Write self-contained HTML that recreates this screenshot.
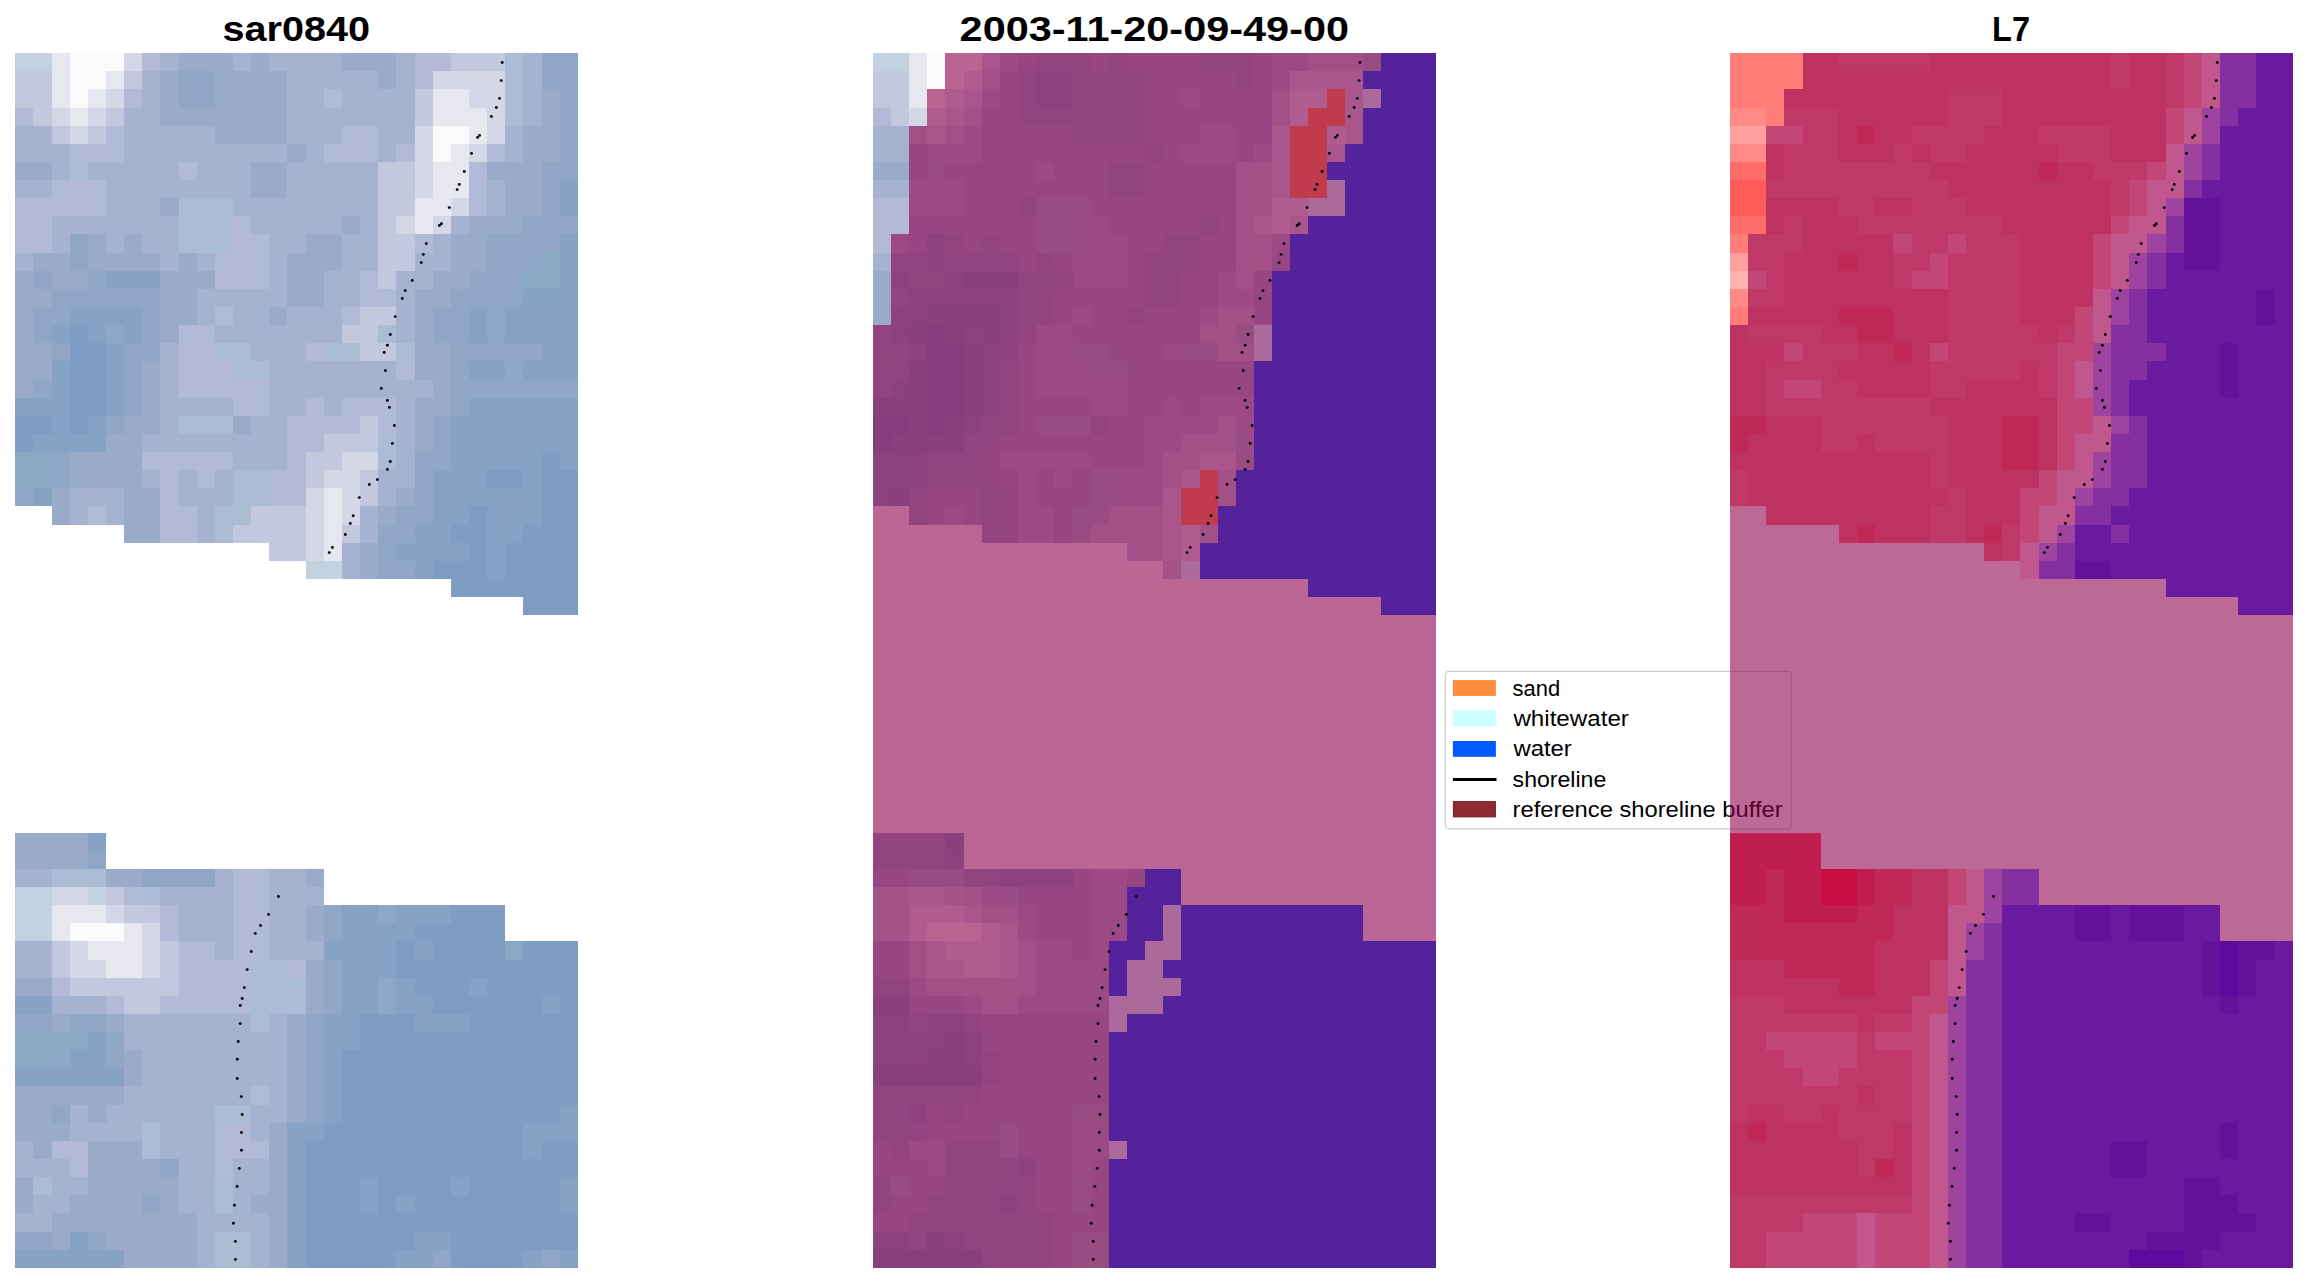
<!DOCTYPE html><html><head><meta charset="utf-8"><title>shoreline</title><style>html,body{margin:0;padding:0;background:#fff;overflow:hidden}svg{display:block}</style></head><body><svg width="2307" height="1283" viewBox="0 0 2307 1283"><rect width="2307" height="1283" fill="#ffffff"/><text x="222.4" y="40.6" font-family="Liberation Sans, sans-serif" font-weight="bold" font-size="34.5" textLength="147.8" lengthAdjust="spacingAndGlyphs">sar0840</text><text x="959.6" y="40.6" font-family="Liberation Sans, sans-serif" font-weight="bold" font-size="34.5" textLength="389.5" lengthAdjust="spacingAndGlyphs">2003-11-20-09-49-00</text><text x="1992.1" y="40.6" font-family="Liberation Sans, sans-serif" font-weight="bold" font-size="34.5" textLength="37.9" lengthAdjust="spacingAndGlyphs">L7</text><g><rect x="15" y="53" width="37" height="18" fill="#c3d2e0"/><rect x="52" y="53" width="18" height="18" fill="#e6e7ef"/><rect x="70" y="53" width="54" height="18" fill="#fbfafa"/><rect x="124" y="53" width="18" height="18" fill="#d4d7e6"/><rect x="142" y="53" width="18" height="18" fill="#b2bad7"/><rect x="160" y="53" width="19" height="18" fill="#a5b3d1"/><rect x="179" y="53" width="54" height="18" fill="#9aabca"/><rect x="233" y="53" width="18" height="18" fill="#a5b3d1"/><rect x="251" y="53" width="18" height="18" fill="#9aabca"/><rect x="269" y="53" width="73" height="18" fill="#a5b3d1"/><rect x="342" y="53" width="54" height="18" fill="#9aabca"/><rect x="396" y="53" width="19" height="18" fill="#a5b3d1"/><rect x="415" y="53" width="36" height="18" fill="#b2bad7"/><rect x="451" y="53" width="54" height="18" fill="#c2c8dd"/><rect x="505" y="53" width="18" height="18" fill="#abbdd4"/><rect x="523" y="53" width="19" height="18" fill="#a5b3d1"/><rect x="542" y="53" width="36" height="18" fill="#8fa6c7"/><rect x="15" y="71" width="37" height="18" fill="#c2c8dd"/><rect x="52" y="71" width="18" height="18" fill="#e6e7ef"/><rect x="70" y="71" width="36" height="18" fill="#fbfafa"/><rect x="106" y="71" width="18" height="18" fill="#e6e7ef"/><rect x="124" y="71" width="18" height="18" fill="#c2c8dd"/><rect x="142" y="71" width="18" height="18" fill="#a5b3d1"/><rect x="160" y="71" width="19" height="18" fill="#9aabca"/><rect x="179" y="71" width="36" height="18" fill="#8fa6c7"/><rect x="215" y="71" width="72" height="18" fill="#9aabca"/><rect x="287" y="71" width="91" height="18" fill="#a5b3d1"/><rect x="378" y="71" width="18" height="18" fill="#9aabca"/><rect x="396" y="71" width="19" height="18" fill="#a5b3d1"/><rect x="415" y="71" width="18" height="18" fill="#b2bad7"/><rect x="433" y="71" width="72" height="18" fill="#d4d7e6"/><rect x="505" y="71" width="18" height="18" fill="#abbdd4"/><rect x="523" y="71" width="19" height="18" fill="#a5b3d1"/><rect x="542" y="71" width="36" height="18" fill="#8fa6c7"/><rect x="15" y="89" width="37" height="19" fill="#c2c8dd"/><rect x="52" y="89" width="18" height="19" fill="#e6e7ef"/><rect x="70" y="89" width="18" height="19" fill="#fbfafa"/><rect x="88" y="89" width="18" height="19" fill="#e6e7ef"/><rect x="106" y="89" width="18" height="19" fill="#d4d7e6"/><rect x="124" y="89" width="18" height="19" fill="#b2bad7"/><rect x="142" y="89" width="18" height="19" fill="#a5b3d1"/><rect x="160" y="89" width="19" height="19" fill="#9aabca"/><rect x="179" y="89" width="36" height="19" fill="#8fa6c7"/><rect x="215" y="89" width="72" height="19" fill="#9aabca"/><rect x="287" y="89" width="37" height="19" fill="#a5b3d1"/><rect x="324" y="89" width="18" height="19" fill="#b2bad7"/><rect x="342" y="89" width="73" height="19" fill="#a5b3d1"/><rect x="415" y="89" width="18" height="19" fill="#c2c8dd"/><rect x="433" y="89" width="36" height="19" fill="#e6e7ef"/><rect x="469" y="89" width="36" height="19" fill="#d4d7e6"/><rect x="505" y="89" width="18" height="19" fill="#abbdd4"/><rect x="523" y="89" width="19" height="19" fill="#a5b3d1"/><rect x="542" y="89" width="18" height="19" fill="#9aabca"/><rect x="560" y="89" width="18" height="19" fill="#8fa6c7"/><rect x="15" y="108" width="18" height="18" fill="#b2bad7"/><rect x="33" y="108" width="19" height="18" fill="#c2c8dd"/><rect x="52" y="108" width="18" height="18" fill="#d4d7e6"/><rect x="70" y="108" width="18" height="18" fill="#e6e7ef"/><rect x="88" y="108" width="18" height="18" fill="#d4d7e6"/><rect x="106" y="108" width="18" height="18" fill="#c2c8dd"/><rect x="124" y="108" width="36" height="18" fill="#a5b3d1"/><rect x="160" y="108" width="127" height="18" fill="#9aabca"/><rect x="287" y="108" width="128" height="18" fill="#a5b3d1"/><rect x="415" y="108" width="18" height="18" fill="#c2c8dd"/><rect x="433" y="108" width="54" height="18" fill="#e6e7ef"/><rect x="487" y="108" width="18" height="18" fill="#d4d7e6"/><rect x="505" y="108" width="18" height="18" fill="#abbdd4"/><rect x="523" y="108" width="19" height="18" fill="#a5b3d1"/><rect x="542" y="108" width="18" height="18" fill="#9aabca"/><rect x="560" y="108" width="18" height="18" fill="#8fa6c7"/><rect x="15" y="126" width="37" height="18" fill="#a5b3d1"/><rect x="52" y="126" width="18" height="18" fill="#c2c8dd"/><rect x="70" y="126" width="18" height="18" fill="#d4d7e6"/><rect x="88" y="126" width="18" height="18" fill="#c2c8dd"/><rect x="106" y="126" width="18" height="18" fill="#b2bad7"/><rect x="124" y="126" width="91" height="18" fill="#a5b3d1"/><rect x="215" y="126" width="72" height="18" fill="#9aabca"/><rect x="287" y="126" width="55" height="18" fill="#a5b3d1"/><rect x="342" y="126" width="36" height="18" fill="#b2bad7"/><rect x="378" y="126" width="37" height="18" fill="#a5b3d1"/><rect x="415" y="126" width="18" height="18" fill="#d4d7e6"/><rect x="433" y="126" width="36" height="18" fill="#fbfafa"/><rect x="469" y="126" width="18" height="18" fill="#e6e7ef"/><rect x="487" y="126" width="18" height="18" fill="#d4d7e6"/><rect x="505" y="126" width="18" height="18" fill="#a5b3d1"/><rect x="523" y="126" width="37" height="18" fill="#9aabca"/><rect x="560" y="126" width="18" height="18" fill="#8fa6c7"/><rect x="15" y="144" width="55" height="18" fill="#a5b3d1"/><rect x="70" y="144" width="54" height="18" fill="#b2bad7"/><rect x="124" y="144" width="163" height="18" fill="#a5b3d1"/><rect x="287" y="144" width="19" height="18" fill="#9aabca"/><rect x="306" y="144" width="18" height="18" fill="#a5b3d1"/><rect x="324" y="144" width="54" height="18" fill="#b2bad7"/><rect x="378" y="144" width="18" height="18" fill="#a5b3d1"/><rect x="396" y="144" width="19" height="18" fill="#b2bad7"/><rect x="415" y="144" width="18" height="18" fill="#d4d7e6"/><rect x="433" y="144" width="18" height="18" fill="#fbfafa"/><rect x="451" y="144" width="18" height="18" fill="#e6e7ef"/><rect x="469" y="144" width="18" height="18" fill="#d4d7e6"/><rect x="487" y="144" width="18" height="18" fill="#b2bad7"/><rect x="505" y="144" width="18" height="18" fill="#a5b3d1"/><rect x="523" y="144" width="37" height="18" fill="#9aabca"/><rect x="560" y="144" width="18" height="18" fill="#8fa6c7"/><rect x="15" y="162" width="37" height="18" fill="#9aabca"/><rect x="52" y="162" width="18" height="18" fill="#a5b3d1"/><rect x="70" y="162" width="18" height="18" fill="#abbdd4"/><rect x="88" y="162" width="91" height="18" fill="#a5b3d1"/><rect x="179" y="162" width="18" height="18" fill="#b2bad7"/><rect x="197" y="162" width="54" height="18" fill="#a5b3d1"/><rect x="251" y="162" width="36" height="18" fill="#9aabca"/><rect x="287" y="162" width="91" height="18" fill="#a5b3d1"/><rect x="378" y="162" width="37" height="18" fill="#c2c8dd"/><rect x="415" y="162" width="18" height="18" fill="#d4d7e6"/><rect x="433" y="162" width="36" height="18" fill="#e6e7ef"/><rect x="469" y="162" width="18" height="18" fill="#b2bad7"/><rect x="487" y="162" width="55" height="18" fill="#9aabca"/><rect x="542" y="162" width="36" height="18" fill="#8fa6c7"/><rect x="15" y="180" width="37" height="18" fill="#a5b3d1"/><rect x="52" y="180" width="54" height="18" fill="#b2bad7"/><rect x="106" y="180" width="145" height="18" fill="#a5b3d1"/><rect x="251" y="180" width="36" height="18" fill="#9aabca"/><rect x="287" y="180" width="91" height="18" fill="#a5b3d1"/><rect x="378" y="180" width="37" height="18" fill="#c2c8dd"/><rect x="415" y="180" width="18" height="18" fill="#d4d7e6"/><rect x="433" y="180" width="36" height="18" fill="#e6e7ef"/><rect x="469" y="180" width="18" height="18" fill="#b2bad7"/><rect x="487" y="180" width="18" height="18" fill="#a5b3d1"/><rect x="505" y="180" width="37" height="18" fill="#9aabca"/><rect x="542" y="180" width="18" height="18" fill="#8fa6c7"/><rect x="560" y="180" width="18" height="18" fill="#86a2c4"/><rect x="15" y="198" width="91" height="18" fill="#b2bad7"/><rect x="106" y="198" width="54" height="18" fill="#a5b3d1"/><rect x="160" y="198" width="19" height="18" fill="#9aabca"/><rect x="179" y="198" width="54" height="18" fill="#abbdd4"/><rect x="233" y="198" width="145" height="18" fill="#a5b3d1"/><rect x="378" y="198" width="37" height="18" fill="#c2c8dd"/><rect x="415" y="198" width="36" height="18" fill="#e6e7ef"/><rect x="451" y="198" width="18" height="18" fill="#d4d7e6"/><rect x="469" y="198" width="18" height="18" fill="#b2bad7"/><rect x="487" y="198" width="18" height="18" fill="#a5b3d1"/><rect x="505" y="198" width="37" height="18" fill="#9aabca"/><rect x="542" y="198" width="18" height="18" fill="#8fa6c7"/><rect x="560" y="198" width="18" height="18" fill="#86a2c4"/><rect x="15" y="216" width="37" height="18" fill="#b2bad7"/><rect x="52" y="216" width="127" height="18" fill="#a5b3d1"/><rect x="179" y="216" width="54" height="18" fill="#abbdd4"/><rect x="233" y="216" width="18" height="18" fill="#b2bad7"/><rect x="251" y="216" width="91" height="18" fill="#a5b3d1"/><rect x="342" y="216" width="18" height="18" fill="#9aabca"/><rect x="360" y="216" width="18" height="18" fill="#a5b3d1"/><rect x="378" y="216" width="18" height="18" fill="#c2c8dd"/><rect x="396" y="216" width="19" height="18" fill="#d4d7e6"/><rect x="415" y="216" width="18" height="18" fill="#e6e7ef"/><rect x="433" y="216" width="18" height="18" fill="#d4d7e6"/><rect x="451" y="216" width="18" height="18" fill="#a5b3d1"/><rect x="469" y="216" width="54" height="18" fill="#9aabca"/><rect x="523" y="216" width="55" height="18" fill="#8fa6c7"/><rect x="15" y="234" width="37" height="19" fill="#b2bad7"/><rect x="52" y="234" width="18" height="19" fill="#a5b3d1"/><rect x="70" y="234" width="18" height="19" fill="#8fa6c7"/><rect x="88" y="234" width="18" height="19" fill="#9aabca"/><rect x="106" y="234" width="18" height="19" fill="#a5b3d1"/><rect x="124" y="234" width="18" height="19" fill="#9aabca"/><rect x="142" y="234" width="37" height="19" fill="#a5b3d1"/><rect x="179" y="234" width="54" height="19" fill="#abbdd4"/><rect x="233" y="234" width="36" height="19" fill="#b2bad7"/><rect x="269" y="234" width="37" height="19" fill="#a5b3d1"/><rect x="306" y="234" width="36" height="19" fill="#9aabca"/><rect x="342" y="234" width="36" height="19" fill="#a5b3d1"/><rect x="378" y="234" width="37" height="19" fill="#c2c8dd"/><rect x="415" y="234" width="18" height="19" fill="#b2bad7"/><rect x="433" y="234" width="18" height="19" fill="#a5b3d1"/><rect x="451" y="234" width="36" height="19" fill="#9aabca"/><rect x="487" y="234" width="73" height="19" fill="#8fa6c7"/><rect x="560" y="234" width="18" height="19" fill="#86a2c4"/><rect x="15" y="253" width="18" height="18" fill="#a5b3d1"/><rect x="33" y="253" width="37" height="18" fill="#9aabca"/><rect x="70" y="253" width="18" height="18" fill="#8fa6c7"/><rect x="88" y="253" width="72" height="18" fill="#9aabca"/><rect x="160" y="253" width="19" height="18" fill="#a5b3d1"/><rect x="179" y="253" width="18" height="18" fill="#9aabca"/><rect x="197" y="253" width="18" height="18" fill="#a5b3d1"/><rect x="215" y="253" width="54" height="18" fill="#b2bad7"/><rect x="269" y="253" width="18" height="18" fill="#a5b3d1"/><rect x="287" y="253" width="55" height="18" fill="#9aabca"/><rect x="342" y="253" width="36" height="18" fill="#a5b3d1"/><rect x="378" y="253" width="37" height="18" fill="#c2c8dd"/><rect x="415" y="253" width="36" height="18" fill="#a5b3d1"/><rect x="451" y="253" width="36" height="18" fill="#9aabca"/><rect x="487" y="253" width="55" height="18" fill="#8fa6c7"/><rect x="542" y="253" width="18" height="18" fill="#88a8c4"/><rect x="560" y="253" width="18" height="18" fill="#86a2c4"/><rect x="15" y="271" width="18" height="18" fill="#9aabca"/><rect x="33" y="271" width="19" height="18" fill="#8fa6c7"/><rect x="52" y="271" width="36" height="18" fill="#9aabca"/><rect x="88" y="271" width="18" height="18" fill="#8fa6c7"/><rect x="106" y="271" width="54" height="18" fill="#86a2c4"/><rect x="160" y="271" width="55" height="18" fill="#9aabca"/><rect x="215" y="271" width="54" height="18" fill="#b2bad7"/><rect x="269" y="271" width="18" height="18" fill="#a5b3d1"/><rect x="287" y="271" width="37" height="18" fill="#9aabca"/><rect x="324" y="271" width="36" height="18" fill="#a5b3d1"/><rect x="360" y="271" width="18" height="18" fill="#b2bad7"/><rect x="378" y="271" width="18" height="18" fill="#c2c8dd"/><rect x="396" y="271" width="37" height="18" fill="#a5b3d1"/><rect x="433" y="271" width="36" height="18" fill="#9aabca"/><rect x="469" y="271" width="54" height="18" fill="#8fa6c7"/><rect x="523" y="271" width="37" height="18" fill="#88a8c4"/><rect x="560" y="271" width="18" height="18" fill="#86a2c4"/><rect x="15" y="289" width="37" height="18" fill="#9aabca"/><rect x="52" y="289" width="108" height="18" fill="#8fa6c7"/><rect x="160" y="289" width="37" height="18" fill="#9aabca"/><rect x="197" y="289" width="90" height="18" fill="#a5b3d1"/><rect x="287" y="289" width="37" height="18" fill="#9aabca"/><rect x="324" y="289" width="36" height="18" fill="#a5b3d1"/><rect x="360" y="289" width="36" height="18" fill="#b2bad7"/><rect x="396" y="289" width="19" height="18" fill="#a5b3d1"/><rect x="415" y="289" width="36" height="18" fill="#9aabca"/><rect x="451" y="289" width="72" height="18" fill="#8fa6c7"/><rect x="523" y="289" width="55" height="18" fill="#86a2c4"/><rect x="15" y="307" width="18" height="18" fill="#9aabca"/><rect x="33" y="307" width="37" height="18" fill="#8fa6c7"/><rect x="70" y="307" width="72" height="18" fill="#86a2c4"/><rect x="142" y="307" width="18" height="18" fill="#8fa6c7"/><rect x="160" y="307" width="37" height="18" fill="#9aabca"/><rect x="197" y="307" width="18" height="18" fill="#a5b3d1"/><rect x="215" y="307" width="18" height="18" fill="#b2bad7"/><rect x="233" y="307" width="36" height="18" fill="#a5b3d1"/><rect x="269" y="307" width="18" height="18" fill="#9aabca"/><rect x="287" y="307" width="55" height="18" fill="#a5b3d1"/><rect x="342" y="307" width="18" height="18" fill="#b2bad7"/><rect x="360" y="307" width="36" height="18" fill="#c2c8dd"/><rect x="396" y="307" width="19" height="18" fill="#a5b3d1"/><rect x="415" y="307" width="18" height="18" fill="#9aabca"/><rect x="433" y="307" width="36" height="18" fill="#8fa6c7"/><rect x="469" y="307" width="18" height="18" fill="#86a2c4"/><rect x="487" y="307" width="18" height="18" fill="#8fa6c7"/><rect x="505" y="307" width="73" height="18" fill="#86a2c4"/><rect x="15" y="325" width="18" height="18" fill="#9aabca"/><rect x="33" y="325" width="19" height="18" fill="#8fa6c7"/><rect x="52" y="325" width="18" height="18" fill="#86a2c4"/><rect x="70" y="325" width="18" height="18" fill="#7f9dc2"/><rect x="88" y="325" width="18" height="18" fill="#86a2c4"/><rect x="106" y="325" width="18" height="18" fill="#8fa6c7"/><rect x="124" y="325" width="18" height="18" fill="#86a2c4"/><rect x="142" y="325" width="18" height="18" fill="#8fa6c7"/><rect x="160" y="325" width="19" height="18" fill="#9aabca"/><rect x="179" y="325" width="36" height="18" fill="#b2bad7"/><rect x="215" y="325" width="127" height="18" fill="#a5b3d1"/><rect x="342" y="325" width="36" height="18" fill="#c2c8dd"/><rect x="378" y="325" width="18" height="18" fill="#abbdd4"/><rect x="396" y="325" width="19" height="18" fill="#a5b3d1"/><rect x="415" y="325" width="18" height="18" fill="#9aabca"/><rect x="433" y="325" width="36" height="18" fill="#8fa6c7"/><rect x="469" y="325" width="18" height="18" fill="#86a2c4"/><rect x="487" y="325" width="18" height="18" fill="#8fa6c7"/><rect x="505" y="325" width="73" height="18" fill="#86a2c4"/><rect x="15" y="343" width="37" height="18" fill="#9aabca"/><rect x="52" y="343" width="18" height="18" fill="#8fa6c7"/><rect x="70" y="343" width="36" height="18" fill="#7f9dc2"/><rect x="106" y="343" width="18" height="18" fill="#86a2c4"/><rect x="124" y="343" width="36" height="18" fill="#8fa6c7"/><rect x="160" y="343" width="19" height="18" fill="#a5b3d1"/><rect x="179" y="343" width="36" height="18" fill="#b2bad7"/><rect x="215" y="343" width="36" height="18" fill="#abbdd4"/><rect x="251" y="343" width="55" height="18" fill="#a5b3d1"/><rect x="306" y="343" width="18" height="18" fill="#b2bad7"/><rect x="324" y="343" width="36" height="18" fill="#abbdd4"/><rect x="360" y="343" width="36" height="18" fill="#c2c8dd"/><rect x="396" y="343" width="19" height="18" fill="#abbdd4"/><rect x="415" y="343" width="36" height="18" fill="#9aabca"/><rect x="451" y="343" width="91" height="18" fill="#8fa6c7"/><rect x="542" y="343" width="36" height="18" fill="#86a2c4"/><rect x="15" y="361" width="37" height="19" fill="#9aabca"/><rect x="52" y="361" width="18" height="19" fill="#86a2c4"/><rect x="70" y="361" width="36" height="19" fill="#7f9dc2"/><rect x="106" y="361" width="18" height="19" fill="#86a2c4"/><rect x="124" y="361" width="18" height="19" fill="#8fa6c7"/><rect x="142" y="361" width="18" height="19" fill="#9aabca"/><rect x="160" y="361" width="19" height="19" fill="#a5b3d1"/><rect x="179" y="361" width="54" height="19" fill="#b2bad7"/><rect x="233" y="361" width="36" height="19" fill="#abbdd4"/><rect x="269" y="361" width="127" height="19" fill="#a5b3d1"/><rect x="396" y="361" width="19" height="19" fill="#b2bad7"/><rect x="415" y="361" width="36" height="19" fill="#9aabca"/><rect x="451" y="361" width="18" height="19" fill="#8fa6c7"/><rect x="469" y="361" width="36" height="19" fill="#86a2c4"/><rect x="505" y="361" width="18" height="19" fill="#8fa6c7"/><rect x="523" y="361" width="55" height="19" fill="#86a2c4"/><rect x="15" y="380" width="18" height="18" fill="#9aabca"/><rect x="33" y="380" width="19" height="18" fill="#8fa6c7"/><rect x="52" y="380" width="18" height="18" fill="#86a2c4"/><rect x="70" y="380" width="36" height="18" fill="#7f9dc2"/><rect x="106" y="380" width="18" height="18" fill="#86a2c4"/><rect x="124" y="380" width="18" height="18" fill="#8fa6c7"/><rect x="142" y="380" width="18" height="18" fill="#9aabca"/><rect x="160" y="380" width="19" height="18" fill="#a5b3d1"/><rect x="179" y="380" width="90" height="18" fill="#b2bad7"/><rect x="269" y="380" width="164" height="18" fill="#a5b3d1"/><rect x="433" y="380" width="18" height="18" fill="#9aabca"/><rect x="451" y="380" width="127" height="18" fill="#8fa6c7"/><rect x="15" y="398" width="55" height="18" fill="#86a2c4"/><rect x="70" y="398" width="36" height="18" fill="#7f9dc2"/><rect x="106" y="398" width="18" height="18" fill="#86a2c4"/><rect x="124" y="398" width="18" height="18" fill="#8fa6c7"/><rect x="142" y="398" width="18" height="18" fill="#9aabca"/><rect x="160" y="398" width="73" height="18" fill="#a5b3d1"/><rect x="233" y="398" width="36" height="18" fill="#b2bad7"/><rect x="269" y="398" width="37" height="18" fill="#a5b3d1"/><rect x="306" y="398" width="18" height="18" fill="#b2bad7"/><rect x="324" y="398" width="18" height="18" fill="#a5b3d1"/><rect x="342" y="398" width="54" height="18" fill="#b2bad7"/><rect x="396" y="398" width="19" height="18" fill="#a5b3d1"/><rect x="415" y="398" width="36" height="18" fill="#9aabca"/><rect x="451" y="398" width="18" height="18" fill="#8fa6c7"/><rect x="469" y="398" width="109" height="18" fill="#86a2c4"/><rect x="15" y="416" width="37" height="18" fill="#7f9dc2"/><rect x="52" y="416" width="18" height="18" fill="#86a2c4"/><rect x="70" y="416" width="18" height="18" fill="#7f9dc2"/><rect x="88" y="416" width="18" height="18" fill="#86a2c4"/><rect x="106" y="416" width="18" height="18" fill="#8fa6c7"/><rect x="124" y="416" width="36" height="18" fill="#9aabca"/><rect x="160" y="416" width="19" height="18" fill="#a5b3d1"/><rect x="179" y="416" width="54" height="18" fill="#abbdd4"/><rect x="233" y="416" width="18" height="18" fill="#9aabca"/><rect x="251" y="416" width="36" height="18" fill="#a5b3d1"/><rect x="287" y="416" width="73" height="18" fill="#b2bad7"/><rect x="360" y="416" width="18" height="18" fill="#c2c8dd"/><rect x="378" y="416" width="18" height="18" fill="#b2bad7"/><rect x="396" y="416" width="19" height="18" fill="#a5b3d1"/><rect x="415" y="416" width="18" height="18" fill="#9aabca"/><rect x="433" y="416" width="18" height="18" fill="#8fa6c7"/><rect x="451" y="416" width="127" height="18" fill="#86a2c4"/><rect x="15" y="434" width="18" height="18" fill="#7f9dc2"/><rect x="33" y="434" width="73" height="18" fill="#86a2c4"/><rect x="106" y="434" width="36" height="18" fill="#9aabca"/><rect x="142" y="434" width="145" height="18" fill="#a5b3d1"/><rect x="287" y="434" width="37" height="18" fill="#b2bad7"/><rect x="324" y="434" width="54" height="18" fill="#c2c8dd"/><rect x="378" y="434" width="18" height="18" fill="#abbdd4"/><rect x="396" y="434" width="19" height="18" fill="#a5b3d1"/><rect x="415" y="434" width="18" height="18" fill="#9aabca"/><rect x="433" y="434" width="18" height="18" fill="#8fa6c7"/><rect x="451" y="434" width="127" height="18" fill="#86a2c4"/><rect x="15" y="452" width="37" height="18" fill="#88a8c4"/><rect x="52" y="452" width="18" height="18" fill="#8fa6c7"/><rect x="70" y="452" width="72" height="18" fill="#9aabca"/><rect x="142" y="452" width="91" height="18" fill="#b2bad7"/><rect x="233" y="452" width="54" height="18" fill="#a5b3d1"/><rect x="287" y="452" width="19" height="18" fill="#b2bad7"/><rect x="306" y="452" width="36" height="18" fill="#c2c8dd"/><rect x="342" y="452" width="36" height="18" fill="#d4d7e6"/><rect x="378" y="452" width="18" height="18" fill="#abbdd4"/><rect x="396" y="452" width="19" height="18" fill="#a5b3d1"/><rect x="415" y="452" width="36" height="18" fill="#8fa6c7"/><rect x="451" y="452" width="91" height="18" fill="#86a2c4"/><rect x="542" y="452" width="18" height="18" fill="#7f9dc2"/><rect x="560" y="452" width="18" height="18" fill="#86a2c4"/><rect x="15" y="470" width="37" height="18" fill="#88a8c4"/><rect x="52" y="470" width="18" height="18" fill="#8fa6c7"/><rect x="70" y="470" width="72" height="18" fill="#9aabca"/><rect x="142" y="470" width="18" height="18" fill="#a5b3d1"/><rect x="160" y="470" width="19" height="18" fill="#b2bad7"/><rect x="179" y="470" width="18" height="18" fill="#a5b3d1"/><rect x="197" y="470" width="18" height="18" fill="#b2bad7"/><rect x="215" y="470" width="18" height="18" fill="#a5b3d1"/><rect x="233" y="470" width="36" height="18" fill="#abbdd4"/><rect x="269" y="470" width="37" height="18" fill="#b2bad7"/><rect x="306" y="470" width="18" height="18" fill="#c2c8dd"/><rect x="324" y="470" width="36" height="18" fill="#d4d7e6"/><rect x="360" y="470" width="18" height="18" fill="#c2c8dd"/><rect x="378" y="470" width="37" height="18" fill="#a5b3d1"/><rect x="415" y="470" width="18" height="18" fill="#8fa6c7"/><rect x="433" y="470" width="54" height="18" fill="#86a2c4"/><rect x="487" y="470" width="36" height="18" fill="#7f9dc2"/><rect x="523" y="470" width="19" height="18" fill="#86a2c4"/><rect x="542" y="470" width="36" height="18" fill="#7f9dc2"/><rect x="15" y="488" width="18" height="18" fill="#8fa6c7"/><rect x="33" y="488" width="19" height="18" fill="#86a2c4"/><rect x="52" y="488" width="18" height="18" fill="#9aabca"/><rect x="70" y="488" width="54" height="18" fill="#a5b3d1"/><rect x="124" y="488" width="36" height="18" fill="#9aabca"/><rect x="160" y="488" width="19" height="18" fill="#b2bad7"/><rect x="179" y="488" width="54" height="18" fill="#a5b3d1"/><rect x="233" y="488" width="36" height="18" fill="#abbdd4"/><rect x="269" y="488" width="37" height="18" fill="#b2bad7"/><rect x="306" y="488" width="18" height="18" fill="#d4d7e6"/><rect x="324" y="488" width="18" height="18" fill="#e6e7ef"/><rect x="342" y="488" width="18" height="18" fill="#d4d7e6"/><rect x="360" y="488" width="18" height="18" fill="#c2c8dd"/><rect x="378" y="488" width="18" height="18" fill="#a5b3d1"/><rect x="396" y="488" width="19" height="18" fill="#9aabca"/><rect x="415" y="488" width="18" height="18" fill="#8fa6c7"/><rect x="433" y="488" width="109" height="18" fill="#86a2c4"/><rect x="542" y="488" width="36" height="18" fill="#7f9dc2"/><rect x="52" y="506" width="18" height="19" fill="#9aabca"/><rect x="70" y="506" width="18" height="19" fill="#a5b3d1"/><rect x="88" y="506" width="18" height="19" fill="#b2bad7"/><rect x="106" y="506" width="18" height="19" fill="#a5b3d1"/><rect x="124" y="506" width="36" height="19" fill="#9aabca"/><rect x="160" y="506" width="37" height="19" fill="#b2bad7"/><rect x="197" y="506" width="18" height="19" fill="#a5b3d1"/><rect x="215" y="506" width="36" height="19" fill="#abbdd4"/><rect x="251" y="506" width="55" height="19" fill="#c2c8dd"/><rect x="306" y="506" width="18" height="19" fill="#d4d7e6"/><rect x="324" y="506" width="18" height="19" fill="#e6e7ef"/><rect x="342" y="506" width="18" height="19" fill="#d4d7e6"/><rect x="360" y="506" width="18" height="19" fill="#a5b3d1"/><rect x="378" y="506" width="18" height="19" fill="#9aabca"/><rect x="396" y="506" width="37" height="19" fill="#8fa6c7"/><rect x="433" y="506" width="36" height="19" fill="#86a2c4"/><rect x="469" y="506" width="18" height="19" fill="#7f9dc2"/><rect x="487" y="506" width="55" height="19" fill="#86a2c4"/><rect x="542" y="506" width="36" height="19" fill="#7f9dc2"/><rect x="124" y="525" width="36" height="18" fill="#9aabca"/><rect x="160" y="525" width="37" height="18" fill="#b2bad7"/><rect x="197" y="525" width="18" height="18" fill="#a5b3d1"/><rect x="215" y="525" width="18" height="18" fill="#abbdd4"/><rect x="233" y="525" width="73" height="18" fill="#c2c8dd"/><rect x="306" y="525" width="18" height="18" fill="#d4d7e6"/><rect x="324" y="525" width="18" height="18" fill="#e6e7ef"/><rect x="342" y="525" width="18" height="18" fill="#c2c8dd"/><rect x="360" y="525" width="18" height="18" fill="#a5b3d1"/><rect x="378" y="525" width="37" height="18" fill="#8fa6c7"/><rect x="415" y="525" width="36" height="18" fill="#86a2c4"/><rect x="451" y="525" width="36" height="18" fill="#7f9dc2"/><rect x="487" y="525" width="36" height="18" fill="#86a2c4"/><rect x="523" y="525" width="55" height="18" fill="#7f9dc2"/><rect x="269" y="543" width="37" height="18" fill="#c2c8dd"/><rect x="306" y="543" width="18" height="18" fill="#d4d7e6"/><rect x="324" y="543" width="18" height="18" fill="#e6e7ef"/><rect x="342" y="543" width="18" height="18" fill="#a5b3d1"/><rect x="360" y="543" width="18" height="18" fill="#9aabca"/><rect x="378" y="543" width="18" height="18" fill="#8fa6c7"/><rect x="396" y="543" width="73" height="18" fill="#86a2c4"/><rect x="469" y="543" width="18" height="18" fill="#7f9dc2"/><rect x="487" y="543" width="18" height="18" fill="#86a2c4"/><rect x="505" y="543" width="73" height="18" fill="#7f9dc2"/><rect x="306" y="561" width="36" height="18" fill="#c3d2e0"/><rect x="342" y="561" width="18" height="18" fill="#a5b3d1"/><rect x="360" y="561" width="18" height="18" fill="#9aabca"/><rect x="378" y="561" width="37" height="18" fill="#8fa6c7"/><rect x="415" y="561" width="18" height="18" fill="#86a2c4"/><rect x="433" y="561" width="54" height="18" fill="#7f9dc2"/><rect x="487" y="561" width="18" height="18" fill="#86a2c4"/><rect x="505" y="561" width="73" height="18" fill="#7f9dc2"/><rect x="451" y="579" width="127" height="18" fill="#7f9dc2"/><rect x="523" y="597" width="55" height="18" fill="#7f9dc2"/><rect x="15" y="833" width="73" height="18" fill="#9aabca"/><rect x="88" y="833" width="18" height="18" fill="#86a2c4"/><rect x="15" y="851" width="73" height="18" fill="#9aabca"/><rect x="88" y="851" width="18" height="18" fill="#8fa6c7"/><rect x="15" y="869" width="37" height="18" fill="#a5b3d1"/><rect x="52" y="869" width="54" height="18" fill="#abbdd4"/><rect x="106" y="869" width="36" height="18" fill="#9aabca"/><rect x="142" y="869" width="73" height="18" fill="#8fa6c7"/><rect x="215" y="869" width="18" height="18" fill="#a5b3d1"/><rect x="233" y="869" width="36" height="18" fill="#b2bad7"/><rect x="269" y="869" width="37" height="18" fill="#a5b3d1"/><rect x="306" y="869" width="18" height="18" fill="#9aabca"/><rect x="15" y="887" width="37" height="18" fill="#c3d2e0"/><rect x="52" y="887" width="36" height="18" fill="#d4d7e6"/><rect x="88" y="887" width="18" height="18" fill="#c3d2e0"/><rect x="106" y="887" width="18" height="18" fill="#c2c8dd"/><rect x="124" y="887" width="18" height="18" fill="#b2bad7"/><rect x="142" y="887" width="18" height="18" fill="#abbdd4"/><rect x="160" y="887" width="73" height="18" fill="#a5b3d1"/><rect x="233" y="887" width="36" height="18" fill="#b2bad7"/><rect x="269" y="887" width="55" height="18" fill="#a5b3d1"/><rect x="15" y="905" width="37" height="18" fill="#c3d2e0"/><rect x="52" y="905" width="54" height="18" fill="#e6e7ef"/><rect x="106" y="905" width="18" height="18" fill="#d4d7e6"/><rect x="124" y="905" width="36" height="18" fill="#c2c8dd"/><rect x="160" y="905" width="19" height="18" fill="#b2bad7"/><rect x="179" y="905" width="54" height="18" fill="#a5b3d1"/><rect x="233" y="905" width="36" height="18" fill="#b2bad7"/><rect x="269" y="905" width="37" height="18" fill="#a5b3d1"/><rect x="306" y="905" width="18" height="18" fill="#9aabca"/><rect x="324" y="905" width="18" height="18" fill="#8fa6c7"/><rect x="342" y="905" width="36" height="18" fill="#86a2c4"/><rect x="378" y="905" width="18" height="18" fill="#8fa6c7"/><rect x="396" y="905" width="55" height="18" fill="#86a2c4"/><rect x="451" y="905" width="54" height="18" fill="#7f9dc2"/><rect x="15" y="923" width="37" height="18" fill="#c3d2e0"/><rect x="52" y="923" width="18" height="18" fill="#e6e7ef"/><rect x="70" y="923" width="54" height="18" fill="#fbfafa"/><rect x="124" y="923" width="18" height="18" fill="#e6e7ef"/><rect x="142" y="923" width="18" height="18" fill="#d4d7e6"/><rect x="160" y="923" width="19" height="18" fill="#b2bad7"/><rect x="179" y="923" width="54" height="18" fill="#a5b3d1"/><rect x="233" y="923" width="36" height="18" fill="#b2bad7"/><rect x="269" y="923" width="37" height="18" fill="#a5b3d1"/><rect x="306" y="923" width="18" height="18" fill="#9aabca"/><rect x="324" y="923" width="18" height="18" fill="#8fa6c7"/><rect x="342" y="923" width="73" height="18" fill="#86a2c4"/><rect x="415" y="923" width="90" height="18" fill="#7f9dc2"/><rect x="15" y="941" width="37" height="19" fill="#a5b3d1"/><rect x="52" y="941" width="18" height="19" fill="#c2c8dd"/><rect x="70" y="941" width="18" height="19" fill="#d4d7e6"/><rect x="88" y="941" width="54" height="19" fill="#e6e7ef"/><rect x="142" y="941" width="18" height="19" fill="#d4d7e6"/><rect x="160" y="941" width="19" height="19" fill="#c2c8dd"/><rect x="179" y="941" width="36" height="19" fill="#b2bad7"/><rect x="215" y="941" width="18" height="19" fill="#a5b3d1"/><rect x="233" y="941" width="36" height="19" fill="#b2bad7"/><rect x="269" y="941" width="55" height="19" fill="#a5b3d1"/><rect x="324" y="941" width="72" height="19" fill="#86a2c4"/><rect x="396" y="941" width="19" height="19" fill="#7f9dc2"/><rect x="415" y="941" width="18" height="19" fill="#86a2c4"/><rect x="433" y="941" width="72" height="19" fill="#7f9dc2"/><rect x="505" y="941" width="18" height="19" fill="#88a8c4"/><rect x="523" y="941" width="55" height="19" fill="#7f9dc2"/><rect x="15" y="960" width="37" height="18" fill="#a5b3d1"/><rect x="52" y="960" width="18" height="18" fill="#c2c8dd"/><rect x="70" y="960" width="36" height="18" fill="#d4d7e6"/><rect x="106" y="960" width="36" height="18" fill="#e6e7ef"/><rect x="142" y="960" width="18" height="18" fill="#d4d7e6"/><rect x="160" y="960" width="19" height="18" fill="#c2c8dd"/><rect x="179" y="960" width="72" height="18" fill="#b2bad7"/><rect x="251" y="960" width="36" height="18" fill="#abbdd4"/><rect x="287" y="960" width="19" height="18" fill="#b2bad7"/><rect x="306" y="960" width="18" height="18" fill="#9aabca"/><rect x="324" y="960" width="18" height="18" fill="#8fa6c7"/><rect x="342" y="960" width="54" height="18" fill="#86a2c4"/><rect x="396" y="960" width="182" height="18" fill="#7f9dc2"/><rect x="15" y="978" width="37" height="18" fill="#9aabca"/><rect x="52" y="978" width="18" height="18" fill="#b2bad7"/><rect x="70" y="978" width="109" height="18" fill="#c2c8dd"/><rect x="179" y="978" width="72" height="18" fill="#b2bad7"/><rect x="251" y="978" width="55" height="18" fill="#abbdd4"/><rect x="306" y="978" width="18" height="18" fill="#9aabca"/><rect x="324" y="978" width="18" height="18" fill="#8fa6c7"/><rect x="342" y="978" width="36" height="18" fill="#86a2c4"/><rect x="378" y="978" width="18" height="18" fill="#8fa6c7"/><rect x="396" y="978" width="19" height="18" fill="#86a2c4"/><rect x="415" y="978" width="54" height="18" fill="#7f9dc2"/><rect x="469" y="978" width="18" height="18" fill="#86a2c4"/><rect x="487" y="978" width="91" height="18" fill="#7f9dc2"/><rect x="15" y="996" width="37" height="18" fill="#86a2c4"/><rect x="52" y="996" width="54" height="18" fill="#a5b3d1"/><rect x="106" y="996" width="18" height="18" fill="#b2bad7"/><rect x="124" y="996" width="36" height="18" fill="#c2c8dd"/><rect x="160" y="996" width="91" height="18" fill="#b2bad7"/><rect x="251" y="996" width="55" height="18" fill="#abbdd4"/><rect x="306" y="996" width="18" height="18" fill="#9aabca"/><rect x="324" y="996" width="18" height="18" fill="#8fa6c7"/><rect x="342" y="996" width="36" height="18" fill="#86a2c4"/><rect x="378" y="996" width="18" height="18" fill="#8fa6c7"/><rect x="396" y="996" width="37" height="18" fill="#86a2c4"/><rect x="433" y="996" width="109" height="18" fill="#7f9dc2"/><rect x="542" y="996" width="18" height="18" fill="#86a2c4"/><rect x="560" y="996" width="18" height="18" fill="#7f9dc2"/><rect x="15" y="1014" width="37" height="18" fill="#8fa6c7"/><rect x="52" y="1014" width="18" height="18" fill="#9aabca"/><rect x="70" y="1014" width="36" height="18" fill="#8fa6c7"/><rect x="106" y="1014" width="18" height="18" fill="#9aabca"/><rect x="124" y="1014" width="127" height="18" fill="#a5b3d1"/><rect x="251" y="1014" width="18" height="18" fill="#abbdd4"/><rect x="269" y="1014" width="18" height="18" fill="#a5b3d1"/><rect x="287" y="1014" width="19" height="18" fill="#9aabca"/><rect x="306" y="1014" width="18" height="18" fill="#8fa6c7"/><rect x="324" y="1014" width="36" height="18" fill="#86a2c4"/><rect x="360" y="1014" width="55" height="18" fill="#7f9dc2"/><rect x="415" y="1014" width="54" height="18" fill="#86a2c4"/><rect x="469" y="1014" width="109" height="18" fill="#7f9dc2"/><rect x="15" y="1032" width="73" height="18" fill="#88a8c4"/><rect x="88" y="1032" width="18" height="18" fill="#86a2c4"/><rect x="106" y="1032" width="18" height="18" fill="#8fa6c7"/><rect x="124" y="1032" width="163" height="18" fill="#a5b3d1"/><rect x="287" y="1032" width="19" height="18" fill="#9aabca"/><rect x="306" y="1032" width="18" height="18" fill="#8fa6c7"/><rect x="324" y="1032" width="36" height="18" fill="#86a2c4"/><rect x="360" y="1032" width="218" height="18" fill="#7f9dc2"/><rect x="15" y="1050" width="37" height="18" fill="#88a8c4"/><rect x="52" y="1050" width="18" height="18" fill="#8fa6c7"/><rect x="70" y="1050" width="36" height="18" fill="#86a2c4"/><rect x="106" y="1050" width="18" height="18" fill="#8fa6c7"/><rect x="124" y="1050" width="18" height="18" fill="#9aabca"/><rect x="142" y="1050" width="145" height="18" fill="#a5b3d1"/><rect x="287" y="1050" width="19" height="18" fill="#9aabca"/><rect x="306" y="1050" width="18" height="18" fill="#8fa6c7"/><rect x="324" y="1050" width="18" height="18" fill="#86a2c4"/><rect x="342" y="1050" width="236" height="18" fill="#7f9dc2"/><rect x="15" y="1068" width="109" height="18" fill="#86a2c4"/><rect x="124" y="1068" width="18" height="18" fill="#9aabca"/><rect x="142" y="1068" width="145" height="18" fill="#a5b3d1"/><rect x="287" y="1068" width="19" height="18" fill="#9aabca"/><rect x="306" y="1068" width="18" height="18" fill="#8fa6c7"/><rect x="324" y="1068" width="18" height="18" fill="#86a2c4"/><rect x="342" y="1068" width="236" height="18" fill="#7f9dc2"/><rect x="15" y="1086" width="109" height="19" fill="#9aabca"/><rect x="124" y="1086" width="127" height="19" fill="#a5b3d1"/><rect x="251" y="1086" width="18" height="19" fill="#b2bad7"/><rect x="269" y="1086" width="18" height="19" fill="#a5b3d1"/><rect x="287" y="1086" width="19" height="19" fill="#9aabca"/><rect x="306" y="1086" width="18" height="19" fill="#8fa6c7"/><rect x="324" y="1086" width="18" height="19" fill="#86a2c4"/><rect x="342" y="1086" width="236" height="19" fill="#7f9dc2"/><rect x="15" y="1105" width="37" height="18" fill="#9aabca"/><rect x="52" y="1105" width="18" height="18" fill="#8fa6c7"/><rect x="70" y="1105" width="18" height="18" fill="#a5b3d1"/><rect x="88" y="1105" width="18" height="18" fill="#9aabca"/><rect x="106" y="1105" width="109" height="18" fill="#a5b3d1"/><rect x="215" y="1105" width="36" height="18" fill="#abbdd4"/><rect x="251" y="1105" width="36" height="18" fill="#a5b3d1"/><rect x="287" y="1105" width="19" height="18" fill="#9aabca"/><rect x="306" y="1105" width="18" height="18" fill="#8fa6c7"/><rect x="324" y="1105" width="18" height="18" fill="#86a2c4"/><rect x="342" y="1105" width="218" height="18" fill="#7f9dc2"/><rect x="560" y="1105" width="18" height="18" fill="#86a2c4"/><rect x="15" y="1123" width="55" height="18" fill="#9aabca"/><rect x="70" y="1123" width="72" height="18" fill="#a5b3d1"/><rect x="142" y="1123" width="18" height="18" fill="#abbdd4"/><rect x="160" y="1123" width="55" height="18" fill="#a5b3d1"/><rect x="215" y="1123" width="36" height="18" fill="#b2bad7"/><rect x="251" y="1123" width="18" height="18" fill="#a5b3d1"/><rect x="269" y="1123" width="18" height="18" fill="#9aabca"/><rect x="287" y="1123" width="37" height="18" fill="#86a2c4"/><rect x="324" y="1123" width="199" height="18" fill="#7f9dc2"/><rect x="523" y="1123" width="55" height="18" fill="#86a2c4"/><rect x="15" y="1141" width="18" height="18" fill="#a5b3d1"/><rect x="33" y="1141" width="19" height="18" fill="#9aabca"/><rect x="52" y="1141" width="36" height="18" fill="#b2bad7"/><rect x="88" y="1141" width="54" height="18" fill="#9aabca"/><rect x="142" y="1141" width="18" height="18" fill="#abbdd4"/><rect x="160" y="1141" width="55" height="18" fill="#a5b3d1"/><rect x="215" y="1141" width="54" height="18" fill="#b2bad7"/><rect x="269" y="1141" width="18" height="18" fill="#9aabca"/><rect x="287" y="1141" width="19" height="18" fill="#86a2c4"/><rect x="306" y="1141" width="217" height="18" fill="#7f9dc2"/><rect x="523" y="1141" width="19" height="18" fill="#86a2c4"/><rect x="542" y="1141" width="36" height="18" fill="#7f9dc2"/><rect x="15" y="1159" width="55" height="18" fill="#a5b3d1"/><rect x="70" y="1159" width="18" height="18" fill="#b2bad7"/><rect x="88" y="1159" width="72" height="18" fill="#9aabca"/><rect x="160" y="1159" width="19" height="18" fill="#8fa6c7"/><rect x="179" y="1159" width="36" height="18" fill="#a5b3d1"/><rect x="215" y="1159" width="18" height="18" fill="#b2bad7"/><rect x="233" y="1159" width="36" height="18" fill="#a5b3d1"/><rect x="269" y="1159" width="18" height="18" fill="#9aabca"/><rect x="287" y="1159" width="19" height="18" fill="#86a2c4"/><rect x="306" y="1159" width="272" height="18" fill="#7f9dc2"/><rect x="15" y="1177" width="18" height="18" fill="#9aabca"/><rect x="33" y="1177" width="19" height="18" fill="#abbdd4"/><rect x="52" y="1177" width="36" height="18" fill="#a5b3d1"/><rect x="88" y="1177" width="91" height="18" fill="#9aabca"/><rect x="179" y="1177" width="36" height="18" fill="#a5b3d1"/><rect x="215" y="1177" width="18" height="18" fill="#abbdd4"/><rect x="233" y="1177" width="36" height="18" fill="#a5b3d1"/><rect x="269" y="1177" width="18" height="18" fill="#9aabca"/><rect x="287" y="1177" width="19" height="18" fill="#86a2c4"/><rect x="306" y="1177" width="54" height="18" fill="#7f9dc2"/><rect x="360" y="1177" width="18" height="18" fill="#86a2c4"/><rect x="378" y="1177" width="73" height="18" fill="#7f9dc2"/><rect x="451" y="1177" width="18" height="18" fill="#86a2c4"/><rect x="469" y="1177" width="91" height="18" fill="#7f9dc2"/><rect x="560" y="1177" width="18" height="18" fill="#86a2c4"/><rect x="15" y="1195" width="18" height="18" fill="#9aabca"/><rect x="33" y="1195" width="37" height="18" fill="#a5b3d1"/><rect x="70" y="1195" width="72" height="18" fill="#9aabca"/><rect x="142" y="1195" width="18" height="18" fill="#8fa6c7"/><rect x="160" y="1195" width="19" height="18" fill="#9aabca"/><rect x="179" y="1195" width="36" height="18" fill="#a5b3d1"/><rect x="215" y="1195" width="18" height="18" fill="#abbdd4"/><rect x="233" y="1195" width="18" height="18" fill="#a5b3d1"/><rect x="251" y="1195" width="36" height="18" fill="#9aabca"/><rect x="287" y="1195" width="19" height="18" fill="#86a2c4"/><rect x="306" y="1195" width="54" height="18" fill="#7f9dc2"/><rect x="360" y="1195" width="18" height="18" fill="#86a2c4"/><rect x="378" y="1195" width="18" height="18" fill="#7f9dc2"/><rect x="396" y="1195" width="19" height="18" fill="#86a2c4"/><rect x="415" y="1195" width="145" height="18" fill="#7f9dc2"/><rect x="560" y="1195" width="18" height="18" fill="#86a2c4"/><rect x="15" y="1213" width="37" height="19" fill="#a5b3d1"/><rect x="52" y="1213" width="145" height="19" fill="#9aabca"/><rect x="197" y="1213" width="72" height="19" fill="#a5b3d1"/><rect x="269" y="1213" width="18" height="19" fill="#9aabca"/><rect x="287" y="1213" width="19" height="19" fill="#86a2c4"/><rect x="306" y="1213" width="272" height="19" fill="#7f9dc2"/><rect x="15" y="1232" width="37" height="18" fill="#8fa6c7"/><rect x="52" y="1232" width="18" height="18" fill="#9aabca"/><rect x="70" y="1232" width="18" height="18" fill="#86a2c4"/><rect x="88" y="1232" width="18" height="18" fill="#8fa6c7"/><rect x="106" y="1232" width="91" height="18" fill="#9aabca"/><rect x="197" y="1232" width="18" height="18" fill="#a5b3d1"/><rect x="215" y="1232" width="36" height="18" fill="#abbdd4"/><rect x="251" y="1232" width="18" height="18" fill="#a5b3d1"/><rect x="269" y="1232" width="18" height="18" fill="#9aabca"/><rect x="287" y="1232" width="19" height="18" fill="#86a2c4"/><rect x="306" y="1232" width="109" height="18" fill="#7f9dc2"/><rect x="415" y="1232" width="36" height="18" fill="#86a2c4"/><rect x="451" y="1232" width="127" height="18" fill="#7f9dc2"/><rect x="15" y="1250" width="109" height="18" fill="#86a2c4"/><rect x="124" y="1250" width="73" height="18" fill="#9aabca"/><rect x="197" y="1250" width="18" height="18" fill="#a5b3d1"/><rect x="215" y="1250" width="36" height="18" fill="#abbdd4"/><rect x="251" y="1250" width="18" height="18" fill="#a5b3d1"/><rect x="269" y="1250" width="18" height="18" fill="#9aabca"/><rect x="287" y="1250" width="19" height="18" fill="#86a2c4"/><rect x="306" y="1250" width="90" height="18" fill="#7f9dc2"/><rect x="396" y="1250" width="37" height="18" fill="#86a2c4"/><rect x="433" y="1250" width="18" height="18" fill="#8fa6c7"/><rect x="451" y="1250" width="72" height="18" fill="#7f9dc2"/><rect x="523" y="1250" width="19" height="18" fill="#86a2c4"/><rect x="542" y="1250" width="18" height="18" fill="#8fa6c7"/><rect x="560" y="1250" width="18" height="18" fill="#86a2c4"/><rect x="873" y="53" width="36" height="18" fill="#c3d2e0"/><rect x="909" y="53" width="18" height="18" fill="#e6e7ef"/><rect x="927" y="53" width="18" height="18" fill="#fbfafa"/><rect x="945" y="53" width="37" height="18" fill="#ba6494"/><rect x="982" y="53" width="18" height="18" fill="#aa558c"/><rect x="1000" y="53" width="18" height="18" fill="#9c4986"/><rect x="1018" y="53" width="18" height="18" fill="#974683"/><rect x="1036" y="53" width="55" height="18" fill="#924380"/><rect x="1091" y="53" width="18" height="18" fill="#974683"/><rect x="1109" y="53" width="18" height="18" fill="#924380"/><rect x="1127" y="53" width="73" height="18" fill="#974683"/><rect x="1200" y="53" width="54" height="18" fill="#924380"/><rect x="1254" y="53" width="18" height="18" fill="#974683"/><rect x="1272" y="53" width="36" height="18" fill="#9c4986"/><rect x="1308" y="53" width="55" height="18" fill="#a34f88"/><rect x="1363" y="53" width="18" height="18" fill="#994b84"/><rect x="1381" y="53" width="55" height="18" fill="#54229a"/><rect x="873" y="71" width="36" height="18" fill="#c2c8dd"/><rect x="909" y="71" width="18" height="18" fill="#e6e7ef"/><rect x="927" y="71" width="18" height="18" fill="#fbfafa"/><rect x="945" y="71" width="19" height="18" fill="#ba6494"/><rect x="964" y="71" width="18" height="18" fill="#b15c8f"/><rect x="982" y="71" width="18" height="18" fill="#a34f88"/><rect x="1000" y="71" width="18" height="18" fill="#974683"/><rect x="1018" y="71" width="18" height="18" fill="#924380"/><rect x="1036" y="71" width="37" height="18" fill="#8e417f"/><rect x="1073" y="71" width="72" height="18" fill="#924380"/><rect x="1145" y="71" width="91" height="18" fill="#974683"/><rect x="1236" y="71" width="18" height="18" fill="#924380"/><rect x="1254" y="71" width="18" height="18" fill="#974683"/><rect x="1272" y="71" width="18" height="18" fill="#9c4986"/><rect x="1290" y="71" width="73" height="18" fill="#aa558c"/><rect x="1363" y="71" width="73" height="18" fill="#54229a"/><rect x="873" y="89" width="36" height="19" fill="#c2c8dd"/><rect x="909" y="89" width="18" height="19" fill="#e6e7ef"/><rect x="927" y="89" width="18" height="19" fill="#ba6494"/><rect x="945" y="89" width="19" height="19" fill="#b15c8f"/><rect x="964" y="89" width="18" height="19" fill="#aa558c"/><rect x="982" y="89" width="18" height="19" fill="#9c4986"/><rect x="1000" y="89" width="18" height="19" fill="#974683"/><rect x="1018" y="89" width="18" height="19" fill="#924380"/><rect x="1036" y="89" width="37" height="19" fill="#8e417f"/><rect x="1073" y="89" width="72" height="19" fill="#924380"/><rect x="1145" y="89" width="36" height="19" fill="#974683"/><rect x="1181" y="89" width="19" height="19" fill="#9c4986"/><rect x="1200" y="89" width="72" height="19" fill="#974683"/><rect x="1272" y="89" width="18" height="19" fill="#a34f88"/><rect x="1290" y="89" width="37" height="19" fill="#b15c8f"/><rect x="1327" y="89" width="18" height="19" fill="#c03c4c"/><rect x="1345" y="89" width="18" height="19" fill="#aa558c"/><rect x="1363" y="89" width="18" height="19" fill="#aa6a9c"/><rect x="1381" y="89" width="55" height="19" fill="#54229a"/><rect x="873" y="108" width="18" height="18" fill="#b2bad7"/><rect x="891" y="108" width="18" height="18" fill="#c2c8dd"/><rect x="909" y="108" width="18" height="18" fill="#d4d7e6"/><rect x="927" y="108" width="18" height="18" fill="#b15c8f"/><rect x="945" y="108" width="19" height="18" fill="#aa558c"/><rect x="964" y="108" width="18" height="18" fill="#a34f88"/><rect x="982" y="108" width="36" height="18" fill="#974683"/><rect x="1018" y="108" width="127" height="18" fill="#924380"/><rect x="1145" y="108" width="127" height="18" fill="#974683"/><rect x="1272" y="108" width="18" height="18" fill="#a34f88"/><rect x="1290" y="108" width="18" height="18" fill="#b15c8f"/><rect x="1308" y="108" width="37" height="18" fill="#c03c4c"/><rect x="1345" y="108" width="18" height="18" fill="#aa558c"/><rect x="1363" y="108" width="73" height="18" fill="#54229a"/><rect x="873" y="126" width="36" height="18" fill="#a5b3d1"/><rect x="909" y="126" width="18" height="18" fill="#a34f88"/><rect x="927" y="126" width="18" height="18" fill="#aa558c"/><rect x="945" y="126" width="19" height="18" fill="#a34f88"/><rect x="964" y="126" width="18" height="18" fill="#9c4986"/><rect x="982" y="126" width="91" height="18" fill="#974683"/><rect x="1073" y="126" width="72" height="18" fill="#924380"/><rect x="1145" y="126" width="55" height="18" fill="#974683"/><rect x="1200" y="126" width="36" height="18" fill="#9c4986"/><rect x="1236" y="126" width="36" height="18" fill="#974683"/><rect x="1272" y="126" width="18" height="18" fill="#aa558c"/><rect x="1290" y="126" width="37" height="18" fill="#c03c4c"/><rect x="1327" y="126" width="18" height="18" fill="#b15c8f"/><rect x="1345" y="126" width="18" height="18" fill="#aa558c"/><rect x="1363" y="126" width="73" height="18" fill="#54229a"/><rect x="873" y="144" width="36" height="18" fill="#a5b3d1"/><rect x="909" y="144" width="18" height="18" fill="#974683"/><rect x="927" y="144" width="55" height="18" fill="#9c4986"/><rect x="982" y="144" width="163" height="18" fill="#974683"/><rect x="1145" y="144" width="18" height="18" fill="#924380"/><rect x="1163" y="144" width="18" height="18" fill="#974683"/><rect x="1181" y="144" width="55" height="18" fill="#9c4986"/><rect x="1236" y="144" width="18" height="18" fill="#974683"/><rect x="1254" y="144" width="18" height="18" fill="#9c4986"/><rect x="1272" y="144" width="18" height="18" fill="#aa558c"/><rect x="1290" y="144" width="37" height="18" fill="#c03c4c"/><rect x="1327" y="144" width="18" height="18" fill="#aa558c"/><rect x="1345" y="144" width="91" height="18" fill="#54229a"/><rect x="873" y="162" width="36" height="18" fill="#9aabca"/><rect x="909" y="162" width="18" height="18" fill="#974683"/><rect x="927" y="162" width="18" height="18" fill="#994b84"/><rect x="945" y="162" width="91" height="18" fill="#974683"/><rect x="1036" y="162" width="18" height="18" fill="#9c4986"/><rect x="1054" y="162" width="55" height="18" fill="#974683"/><rect x="1109" y="162" width="36" height="18" fill="#924380"/><rect x="1145" y="162" width="91" height="18" fill="#974683"/><rect x="1236" y="162" width="36" height="18" fill="#a34f88"/><rect x="1272" y="162" width="18" height="18" fill="#aa558c"/><rect x="1290" y="162" width="37" height="18" fill="#c03c4c"/><rect x="1327" y="162" width="109" height="18" fill="#54229a"/><rect x="873" y="180" width="36" height="18" fill="#a5b3d1"/><rect x="909" y="180" width="55" height="18" fill="#9c4986"/><rect x="964" y="180" width="145" height="18" fill="#974683"/><rect x="1109" y="180" width="36" height="18" fill="#924380"/><rect x="1145" y="180" width="91" height="18" fill="#974683"/><rect x="1236" y="180" width="36" height="18" fill="#a34f88"/><rect x="1272" y="180" width="18" height="18" fill="#aa558c"/><rect x="1290" y="180" width="37" height="18" fill="#c03c4c"/><rect x="1327" y="180" width="18" height="18" fill="#aa6a9c"/><rect x="1345" y="180" width="91" height="18" fill="#54229a"/><rect x="873" y="198" width="36" height="18" fill="#b2bad7"/><rect x="909" y="198" width="55" height="18" fill="#9c4986"/><rect x="964" y="198" width="54" height="18" fill="#974683"/><rect x="1018" y="198" width="18" height="18" fill="#924380"/><rect x="1036" y="198" width="55" height="18" fill="#994b84"/><rect x="1091" y="198" width="145" height="18" fill="#974683"/><rect x="1236" y="198" width="36" height="18" fill="#a34f88"/><rect x="1272" y="198" width="36" height="18" fill="#b15c8f"/><rect x="1308" y="198" width="37" height="18" fill="#aa6a9c"/><rect x="1345" y="198" width="91" height="18" fill="#54229a"/><rect x="873" y="216" width="36" height="18" fill="#b2bad7"/><rect x="909" y="216" width="127" height="18" fill="#974683"/><rect x="1036" y="216" width="55" height="18" fill="#994b84"/><rect x="1091" y="216" width="18" height="18" fill="#9c4986"/><rect x="1109" y="216" width="91" height="18" fill="#974683"/><rect x="1200" y="216" width="18" height="18" fill="#924380"/><rect x="1218" y="216" width="18" height="18" fill="#974683"/><rect x="1236" y="216" width="18" height="18" fill="#a34f88"/><rect x="1254" y="216" width="18" height="18" fill="#aa558c"/><rect x="1272" y="216" width="18" height="18" fill="#b15c8f"/><rect x="1290" y="216" width="18" height="18" fill="#aa558c"/><rect x="1308" y="216" width="128" height="18" fill="#54229a"/><rect x="873" y="234" width="18" height="19" fill="#b2bad7"/><rect x="891" y="234" width="18" height="19" fill="#9c4986"/><rect x="909" y="234" width="18" height="19" fill="#974683"/><rect x="927" y="234" width="18" height="19" fill="#8e417f"/><rect x="945" y="234" width="19" height="19" fill="#924380"/><rect x="964" y="234" width="18" height="19" fill="#974683"/><rect x="982" y="234" width="18" height="19" fill="#924380"/><rect x="1000" y="234" width="36" height="19" fill="#974683"/><rect x="1036" y="234" width="55" height="19" fill="#994b84"/><rect x="1091" y="234" width="36" height="19" fill="#9c4986"/><rect x="1127" y="234" width="36" height="19" fill="#974683"/><rect x="1163" y="234" width="37" height="19" fill="#924380"/><rect x="1200" y="234" width="36" height="19" fill="#974683"/><rect x="1236" y="234" width="36" height="19" fill="#a34f88"/><rect x="1272" y="234" width="18" height="19" fill="#9c4986"/><rect x="1290" y="234" width="146" height="19" fill="#54229a"/><rect x="873" y="253" width="18" height="18" fill="#a5b3d1"/><rect x="891" y="253" width="36" height="18" fill="#924380"/><rect x="927" y="253" width="18" height="18" fill="#8e417f"/><rect x="945" y="253" width="73" height="18" fill="#924380"/><rect x="1018" y="253" width="18" height="18" fill="#974683"/><rect x="1036" y="253" width="18" height="18" fill="#924380"/><rect x="1054" y="253" width="19" height="18" fill="#974683"/><rect x="1073" y="253" width="54" height="18" fill="#9c4986"/><rect x="1127" y="253" width="18" height="18" fill="#974683"/><rect x="1145" y="253" width="55" height="18" fill="#924380"/><rect x="1200" y="253" width="36" height="18" fill="#974683"/><rect x="1236" y="253" width="36" height="18" fill="#a34f88"/><rect x="1272" y="253" width="18" height="18" fill="#974683"/><rect x="1290" y="253" width="146" height="18" fill="#54229a"/><rect x="873" y="271" width="18" height="18" fill="#9aabca"/><rect x="891" y="271" width="18" height="18" fill="#8e417f"/><rect x="909" y="271" width="36" height="18" fill="#924380"/><rect x="945" y="271" width="19" height="18" fill="#8e417f"/><rect x="964" y="271" width="54" height="18" fill="#8a3f7e"/><rect x="1018" y="271" width="55" height="18" fill="#924380"/><rect x="1073" y="271" width="54" height="18" fill="#9c4986"/><rect x="1127" y="271" width="18" height="18" fill="#974683"/><rect x="1145" y="271" width="36" height="18" fill="#924380"/><rect x="1181" y="271" width="37" height="18" fill="#974683"/><rect x="1218" y="271" width="18" height="18" fill="#9c4986"/><rect x="1236" y="271" width="18" height="18" fill="#a34f88"/><rect x="1254" y="271" width="18" height="18" fill="#974683"/><rect x="1272" y="271" width="164" height="18" fill="#54229a"/><rect x="873" y="289" width="18" height="18" fill="#9aabca"/><rect x="891" y="289" width="18" height="18" fill="#924380"/><rect x="909" y="289" width="109" height="18" fill="#8e417f"/><rect x="1018" y="289" width="36" height="18" fill="#924380"/><rect x="1054" y="289" width="91" height="18" fill="#974683"/><rect x="1145" y="289" width="36" height="18" fill="#924380"/><rect x="1181" y="289" width="37" height="18" fill="#974683"/><rect x="1218" y="289" width="36" height="18" fill="#9c4986"/><rect x="1254" y="289" width="18" height="18" fill="#974683"/><rect x="1272" y="289" width="164" height="18" fill="#54229a"/><rect x="873" y="307" width="18" height="18" fill="#9aabca"/><rect x="891" y="307" width="36" height="18" fill="#8e417f"/><rect x="927" y="307" width="73" height="18" fill="#8a3f7e"/><rect x="1000" y="307" width="18" height="18" fill="#8e417f"/><rect x="1018" y="307" width="36" height="18" fill="#924380"/><rect x="1054" y="307" width="19" height="18" fill="#974683"/><rect x="1073" y="307" width="18" height="18" fill="#9c4986"/><rect x="1091" y="307" width="36" height="18" fill="#974683"/><rect x="1127" y="307" width="18" height="18" fill="#924380"/><rect x="1145" y="307" width="55" height="18" fill="#974683"/><rect x="1200" y="307" width="18" height="18" fill="#9c4986"/><rect x="1218" y="307" width="36" height="18" fill="#a34f88"/><rect x="1254" y="307" width="18" height="18" fill="#974683"/><rect x="1272" y="307" width="164" height="18" fill="#54229a"/><rect x="873" y="325" width="18" height="18" fill="#924380"/><rect x="891" y="325" width="18" height="18" fill="#8e417f"/><rect x="909" y="325" width="18" height="18" fill="#8a3f7e"/><rect x="927" y="325" width="18" height="18" fill="#873d7d"/><rect x="945" y="325" width="19" height="18" fill="#8a3f7e"/><rect x="964" y="325" width="18" height="18" fill="#8e417f"/><rect x="982" y="325" width="18" height="18" fill="#8a3f7e"/><rect x="1000" y="325" width="18" height="18" fill="#8e417f"/><rect x="1018" y="325" width="18" height="18" fill="#924380"/><rect x="1036" y="325" width="37" height="18" fill="#9c4986"/><rect x="1073" y="325" width="127" height="18" fill="#974683"/><rect x="1200" y="325" width="36" height="18" fill="#a34f88"/><rect x="1236" y="325" width="18" height="18" fill="#994b84"/><rect x="1254" y="325" width="18" height="18" fill="#aa6a9c"/><rect x="1272" y="325" width="164" height="18" fill="#54229a"/><rect x="873" y="343" width="36" height="18" fill="#924380"/><rect x="909" y="343" width="18" height="18" fill="#8e417f"/><rect x="927" y="343" width="37" height="18" fill="#873d7d"/><rect x="964" y="343" width="18" height="18" fill="#8a3f7e"/><rect x="982" y="343" width="36" height="18" fill="#8e417f"/><rect x="1018" y="343" width="18" height="18" fill="#974683"/><rect x="1036" y="343" width="37" height="18" fill="#9c4986"/><rect x="1073" y="343" width="36" height="18" fill="#994b84"/><rect x="1109" y="343" width="54" height="18" fill="#974683"/><rect x="1163" y="343" width="18" height="18" fill="#9c4986"/><rect x="1181" y="343" width="37" height="18" fill="#994b84"/><rect x="1218" y="343" width="36" height="18" fill="#a34f88"/><rect x="1254" y="343" width="18" height="18" fill="#aa6a9c"/><rect x="1272" y="343" width="164" height="18" fill="#54229a"/><rect x="873" y="361" width="36" height="19" fill="#924380"/><rect x="909" y="361" width="18" height="19" fill="#8a3f7e"/><rect x="927" y="361" width="37" height="19" fill="#873d7d"/><rect x="964" y="361" width="18" height="19" fill="#8a3f7e"/><rect x="982" y="361" width="18" height="19" fill="#8e417f"/><rect x="1000" y="361" width="18" height="19" fill="#924380"/><rect x="1018" y="361" width="18" height="19" fill="#974683"/><rect x="1036" y="361" width="55" height="19" fill="#9c4986"/><rect x="1091" y="361" width="36" height="19" fill="#994b84"/><rect x="1127" y="361" width="127" height="19" fill="#974683"/><rect x="1254" y="361" width="182" height="19" fill="#54229a"/><rect x="873" y="380" width="18" height="18" fill="#924380"/><rect x="891" y="380" width="18" height="18" fill="#8e417f"/><rect x="909" y="380" width="18" height="18" fill="#8a3f7e"/><rect x="927" y="380" width="37" height="18" fill="#873d7d"/><rect x="964" y="380" width="18" height="18" fill="#8a3f7e"/><rect x="982" y="380" width="18" height="18" fill="#8e417f"/><rect x="1000" y="380" width="18" height="18" fill="#924380"/><rect x="1018" y="380" width="18" height="18" fill="#974683"/><rect x="1036" y="380" width="91" height="18" fill="#9c4986"/><rect x="1127" y="380" width="127" height="18" fill="#974683"/><rect x="1254" y="380" width="182" height="18" fill="#54229a"/><rect x="873" y="398" width="54" height="18" fill="#8a3f7e"/><rect x="927" y="398" width="37" height="18" fill="#873d7d"/><rect x="964" y="398" width="18" height="18" fill="#8a3f7e"/><rect x="982" y="398" width="18" height="18" fill="#8e417f"/><rect x="1000" y="398" width="18" height="18" fill="#924380"/><rect x="1018" y="398" width="73" height="18" fill="#974683"/><rect x="1091" y="398" width="36" height="18" fill="#9c4986"/><rect x="1127" y="398" width="36" height="18" fill="#974683"/><rect x="1163" y="398" width="18" height="18" fill="#9c4986"/><rect x="1181" y="398" width="19" height="18" fill="#974683"/><rect x="1200" y="398" width="54" height="18" fill="#9c4986"/><rect x="1254" y="398" width="182" height="18" fill="#54229a"/><rect x="873" y="416" width="36" height="18" fill="#873d7d"/><rect x="909" y="416" width="18" height="18" fill="#8a3f7e"/><rect x="927" y="416" width="18" height="18" fill="#873d7d"/><rect x="945" y="416" width="19" height="18" fill="#8a3f7e"/><rect x="964" y="416" width="18" height="18" fill="#8e417f"/><rect x="982" y="416" width="36" height="18" fill="#924380"/><rect x="1018" y="416" width="18" height="18" fill="#974683"/><rect x="1036" y="416" width="55" height="18" fill="#994b84"/><rect x="1091" y="416" width="18" height="18" fill="#924380"/><rect x="1109" y="416" width="36" height="18" fill="#974683"/><rect x="1145" y="416" width="73" height="18" fill="#9c4986"/><rect x="1218" y="416" width="18" height="18" fill="#a34f88"/><rect x="1236" y="416" width="18" height="18" fill="#9c4986"/><rect x="1254" y="416" width="182" height="18" fill="#54229a"/><rect x="873" y="434" width="18" height="18" fill="#873d7d"/><rect x="891" y="434" width="73" height="18" fill="#8a3f7e"/><rect x="964" y="434" width="36" height="18" fill="#924380"/><rect x="1000" y="434" width="145" height="18" fill="#974683"/><rect x="1145" y="434" width="36" height="18" fill="#9c4986"/><rect x="1181" y="434" width="55" height="18" fill="#a34f88"/><rect x="1236" y="434" width="18" height="18" fill="#994b84"/><rect x="1254" y="434" width="182" height="18" fill="#54229a"/><rect x="873" y="452" width="36" height="18" fill="#8b427e"/><rect x="909" y="452" width="18" height="18" fill="#8e417f"/><rect x="927" y="452" width="73" height="18" fill="#924380"/><rect x="1000" y="452" width="91" height="18" fill="#9c4986"/><rect x="1091" y="452" width="54" height="18" fill="#974683"/><rect x="1145" y="452" width="18" height="18" fill="#9c4986"/><rect x="1163" y="452" width="37" height="18" fill="#a34f88"/><rect x="1200" y="452" width="36" height="18" fill="#aa558c"/><rect x="1236" y="452" width="18" height="18" fill="#994b84"/><rect x="1254" y="452" width="182" height="18" fill="#54229a"/><rect x="873" y="470" width="36" height="18" fill="#8b427e"/><rect x="909" y="470" width="18" height="18" fill="#8e417f"/><rect x="927" y="470" width="73" height="18" fill="#924380"/><rect x="1000" y="470" width="18" height="18" fill="#974683"/><rect x="1018" y="470" width="18" height="18" fill="#9c4986"/><rect x="1036" y="470" width="18" height="18" fill="#974683"/><rect x="1054" y="470" width="19" height="18" fill="#9c4986"/><rect x="1073" y="470" width="18" height="18" fill="#974683"/><rect x="1091" y="470" width="36" height="18" fill="#994b84"/><rect x="1127" y="470" width="36" height="18" fill="#9c4986"/><rect x="1163" y="470" width="18" height="18" fill="#a34f88"/><rect x="1181" y="470" width="19" height="18" fill="#aa558c"/><rect x="1200" y="470" width="18" height="18" fill="#c03c4c"/><rect x="1218" y="470" width="18" height="18" fill="#a34f88"/><rect x="1236" y="470" width="200" height="18" fill="#54229a"/><rect x="873" y="488" width="18" height="18" fill="#8e417f"/><rect x="891" y="488" width="18" height="18" fill="#8a3f7e"/><rect x="909" y="488" width="18" height="18" fill="#924380"/><rect x="927" y="488" width="55" height="18" fill="#974683"/><rect x="982" y="488" width="36" height="18" fill="#924380"/><rect x="1018" y="488" width="18" height="18" fill="#9c4986"/><rect x="1036" y="488" width="55" height="18" fill="#974683"/><rect x="1091" y="488" width="36" height="18" fill="#994b84"/><rect x="1127" y="488" width="36" height="18" fill="#9c4986"/><rect x="1163" y="488" width="18" height="18" fill="#aa558c"/><rect x="1181" y="488" width="37" height="18" fill="#c03c4c"/><rect x="1218" y="488" width="18" height="18" fill="#a34f88"/><rect x="1236" y="488" width="200" height="18" fill="#54229a"/><rect x="873" y="506" width="36" height="19" fill="#bc6696"/><rect x="909" y="506" width="18" height="19" fill="#924380"/><rect x="927" y="506" width="18" height="19" fill="#974683"/><rect x="945" y="506" width="19" height="19" fill="#9c4986"/><rect x="964" y="506" width="18" height="19" fill="#974683"/><rect x="982" y="506" width="36" height="19" fill="#924380"/><rect x="1018" y="506" width="36" height="19" fill="#9c4986"/><rect x="1054" y="506" width="19" height="19" fill="#974683"/><rect x="1073" y="506" width="36" height="19" fill="#994b84"/><rect x="1109" y="506" width="54" height="19" fill="#a34f88"/><rect x="1163" y="506" width="18" height="19" fill="#aa558c"/><rect x="1181" y="506" width="37" height="19" fill="#c03c4c"/><rect x="1218" y="506" width="218" height="19" fill="#54229a"/><rect x="873" y="525" width="109" height="18" fill="#bc6696"/><rect x="982" y="525" width="36" height="18" fill="#924380"/><rect x="1018" y="525" width="36" height="18" fill="#9c4986"/><rect x="1054" y="525" width="19" height="18" fill="#974683"/><rect x="1073" y="525" width="18" height="18" fill="#994b84"/><rect x="1091" y="525" width="72" height="18" fill="#a34f88"/><rect x="1163" y="525" width="18" height="18" fill="#aa558c"/><rect x="1181" y="525" width="19" height="18" fill="#b15c8f"/><rect x="1200" y="525" width="18" height="18" fill="#a34f88"/><rect x="1218" y="525" width="218" height="18" fill="#54229a"/><rect x="873" y="543" width="254" height="18" fill="#bc6696"/><rect x="1127" y="543" width="36" height="18" fill="#a34f88"/><rect x="1163" y="543" width="18" height="18" fill="#aa558c"/><rect x="1181" y="543" width="19" height="18" fill="#b15c8f"/><rect x="1200" y="543" width="236" height="18" fill="#54229a"/><rect x="873" y="561" width="290" height="18" fill="#bc6696"/><rect x="1163" y="561" width="18" height="18" fill="#a35389"/><rect x="1181" y="561" width="19" height="18" fill="#aa6a9c"/><rect x="1200" y="561" width="236" height="18" fill="#54229a"/><rect x="873" y="579" width="435" height="18" fill="#bc6696"/><rect x="1308" y="579" width="128" height="18" fill="#54229a"/><rect x="873" y="597" width="508" height="18" fill="#bc6696"/><rect x="1381" y="597" width="55" height="18" fill="#54229a"/><rect x="873" y="615" width="563" height="18" fill="#bc6696"/><rect x="873" y="633" width="563" height="18" fill="#bc6696"/><rect x="873" y="651" width="563" height="19" fill="#bc6696"/><rect x="873" y="670" width="563" height="18" fill="#bc6696"/><rect x="873" y="688" width="563" height="18" fill="#bc6696"/><rect x="873" y="706" width="563" height="18" fill="#bc6696"/><rect x="873" y="724" width="563" height="18" fill="#bc6696"/><rect x="873" y="742" width="563" height="18" fill="#bc6696"/><rect x="873" y="760" width="563" height="18" fill="#bc6696"/><rect x="873" y="778" width="563" height="18" fill="#bc6696"/><rect x="873" y="796" width="563" height="19" fill="#bc6696"/><rect x="873" y="815" width="563" height="18" fill="#bc6696"/><rect x="873" y="833" width="72" height="18" fill="#924380"/><rect x="945" y="833" width="19" height="18" fill="#8a3f7e"/><rect x="964" y="833" width="472" height="18" fill="#bc6696"/><rect x="873" y="851" width="72" height="18" fill="#924380"/><rect x="945" y="851" width="19" height="18" fill="#8e417f"/><rect x="964" y="851" width="472" height="18" fill="#bc6696"/><rect x="873" y="869" width="36" height="18" fill="#974683"/><rect x="909" y="869" width="55" height="18" fill="#994b84"/><rect x="964" y="869" width="36" height="18" fill="#924380"/><rect x="1000" y="869" width="73" height="18" fill="#8e417f"/><rect x="1073" y="869" width="18" height="18" fill="#974683"/><rect x="1091" y="869" width="36" height="18" fill="#9c4986"/><rect x="1127" y="869" width="18" height="18" fill="#974683"/><rect x="1145" y="869" width="36" height="18" fill="#54229a"/><rect x="1181" y="869" width="255" height="18" fill="#bc6696"/><rect x="873" y="887" width="36" height="18" fill="#a35389"/><rect x="909" y="887" width="36" height="18" fill="#aa558c"/><rect x="945" y="887" width="19" height="18" fill="#a35389"/><rect x="964" y="887" width="18" height="18" fill="#a34f88"/><rect x="982" y="887" width="18" height="18" fill="#9c4986"/><rect x="1000" y="887" width="18" height="18" fill="#994b84"/><rect x="1018" y="887" width="73" height="18" fill="#974683"/><rect x="1091" y="887" width="36" height="18" fill="#9c4986"/><rect x="1127" y="887" width="54" height="18" fill="#54229a"/><rect x="1181" y="887" width="255" height="18" fill="#bc6696"/><rect x="873" y="905" width="36" height="18" fill="#a35389"/><rect x="909" y="905" width="55" height="18" fill="#b15c8f"/><rect x="964" y="905" width="18" height="18" fill="#aa558c"/><rect x="982" y="905" width="36" height="18" fill="#a34f88"/><rect x="1018" y="905" width="18" height="18" fill="#9c4986"/><rect x="1036" y="905" width="55" height="18" fill="#974683"/><rect x="1091" y="905" width="36" height="18" fill="#9c4986"/><rect x="1127" y="905" width="36" height="18" fill="#54229a"/><rect x="1163" y="905" width="18" height="18" fill="#aa6a9c"/><rect x="1181" y="905" width="182" height="18" fill="#54229a"/><rect x="1363" y="905" width="73" height="18" fill="#bc6696"/><rect x="873" y="923" width="36" height="18" fill="#a35389"/><rect x="909" y="923" width="18" height="18" fill="#b15c8f"/><rect x="927" y="923" width="55" height="18" fill="#ba6494"/><rect x="982" y="923" width="18" height="18" fill="#b15c8f"/><rect x="1000" y="923" width="18" height="18" fill="#aa558c"/><rect x="1018" y="923" width="18" height="18" fill="#9c4986"/><rect x="1036" y="923" width="55" height="18" fill="#974683"/><rect x="1091" y="923" width="36" height="18" fill="#9c4986"/><rect x="1127" y="923" width="36" height="18" fill="#54229a"/><rect x="1163" y="923" width="18" height="18" fill="#aa6a9c"/><rect x="1181" y="923" width="182" height="18" fill="#54229a"/><rect x="1363" y="923" width="73" height="18" fill="#bc6696"/><rect x="873" y="941" width="36" height="19" fill="#974683"/><rect x="909" y="941" width="18" height="19" fill="#a34f88"/><rect x="927" y="941" width="18" height="19" fill="#aa558c"/><rect x="945" y="941" width="55" height="19" fill="#b15c8f"/><rect x="1000" y="941" width="18" height="19" fill="#aa558c"/><rect x="1018" y="941" width="18" height="19" fill="#a34f88"/><rect x="1036" y="941" width="37" height="19" fill="#9c4986"/><rect x="1073" y="941" width="18" height="19" fill="#974683"/><rect x="1091" y="941" width="18" height="19" fill="#9c4986"/><rect x="1109" y="941" width="36" height="19" fill="#54229a"/><rect x="1145" y="941" width="36" height="19" fill="#aa6a9c"/><rect x="1181" y="941" width="255" height="19" fill="#54229a"/><rect x="873" y="960" width="36" height="18" fill="#974683"/><rect x="909" y="960" width="18" height="18" fill="#a34f88"/><rect x="927" y="960" width="37" height="18" fill="#aa558c"/><rect x="964" y="960" width="36" height="18" fill="#b15c8f"/><rect x="1000" y="960" width="18" height="18" fill="#aa558c"/><rect x="1018" y="960" width="18" height="18" fill="#a34f88"/><rect x="1036" y="960" width="73" height="18" fill="#9c4986"/><rect x="1109" y="960" width="18" height="18" fill="#54229a"/><rect x="1127" y="960" width="36" height="18" fill="#aa6a9c"/><rect x="1163" y="960" width="273" height="18" fill="#54229a"/><rect x="873" y="978" width="36" height="18" fill="#924380"/><rect x="909" y="978" width="18" height="18" fill="#9c4986"/><rect x="927" y="978" width="109" height="18" fill="#a34f88"/><rect x="1036" y="978" width="73" height="18" fill="#9c4986"/><rect x="1109" y="978" width="18" height="18" fill="#54229a"/><rect x="1127" y="978" width="54" height="18" fill="#aa6a9c"/><rect x="1181" y="978" width="255" height="18" fill="#54229a"/><rect x="873" y="996" width="36" height="18" fill="#8a3f7e"/><rect x="909" y="996" width="55" height="18" fill="#974683"/><rect x="964" y="996" width="18" height="18" fill="#9c4986"/><rect x="982" y="996" width="36" height="18" fill="#a34f88"/><rect x="1018" y="996" width="91" height="18" fill="#9c4986"/><rect x="1109" y="996" width="54" height="18" fill="#aa6a9c"/><rect x="1163" y="996" width="273" height="18" fill="#54229a"/><rect x="873" y="1014" width="36" height="18" fill="#8e417f"/><rect x="909" y="1014" width="18" height="18" fill="#924380"/><rect x="927" y="1014" width="37" height="18" fill="#8e417f"/><rect x="964" y="1014" width="18" height="18" fill="#924380"/><rect x="982" y="1014" width="127" height="18" fill="#974683"/><rect x="1109" y="1014" width="18" height="18" fill="#aa6a9c"/><rect x="1127" y="1014" width="309" height="18" fill="#54229a"/><rect x="873" y="1032" width="72" height="18" fill="#8b427e"/><rect x="945" y="1032" width="19" height="18" fill="#8a3f7e"/><rect x="964" y="1032" width="18" height="18" fill="#8e417f"/><rect x="982" y="1032" width="127" height="18" fill="#974683"/><rect x="1109" y="1032" width="327" height="18" fill="#54229a"/><rect x="873" y="1050" width="36" height="18" fill="#8b427e"/><rect x="909" y="1050" width="18" height="18" fill="#8e417f"/><rect x="927" y="1050" width="37" height="18" fill="#8a3f7e"/><rect x="964" y="1050" width="18" height="18" fill="#8e417f"/><rect x="982" y="1050" width="18" height="18" fill="#924380"/><rect x="1000" y="1050" width="109" height="18" fill="#974683"/><rect x="1109" y="1050" width="327" height="18" fill="#54229a"/><rect x="873" y="1068" width="109" height="18" fill="#8a3f7e"/><rect x="982" y="1068" width="18" height="18" fill="#924380"/><rect x="1000" y="1068" width="109" height="18" fill="#974683"/><rect x="1109" y="1068" width="327" height="18" fill="#54229a"/><rect x="873" y="1086" width="109" height="19" fill="#924380"/><rect x="982" y="1086" width="127" height="19" fill="#974683"/><rect x="1109" y="1086" width="327" height="19" fill="#54229a"/><rect x="873" y="1105" width="36" height="18" fill="#924380"/><rect x="909" y="1105" width="18" height="18" fill="#8e417f"/><rect x="927" y="1105" width="18" height="18" fill="#974683"/><rect x="945" y="1105" width="19" height="18" fill="#924380"/><rect x="964" y="1105" width="109" height="18" fill="#974683"/><rect x="1073" y="1105" width="36" height="18" fill="#994b84"/><rect x="1109" y="1105" width="327" height="18" fill="#54229a"/><rect x="873" y="1123" width="54" height="18" fill="#924380"/><rect x="927" y="1123" width="73" height="18" fill="#974683"/><rect x="1000" y="1123" width="18" height="18" fill="#994b84"/><rect x="1018" y="1123" width="55" height="18" fill="#974683"/><rect x="1073" y="1123" width="36" height="18" fill="#9c4986"/><rect x="1109" y="1123" width="327" height="18" fill="#54229a"/><rect x="873" y="1141" width="18" height="18" fill="#974683"/><rect x="891" y="1141" width="18" height="18" fill="#924380"/><rect x="909" y="1141" width="36" height="18" fill="#9c4986"/><rect x="945" y="1141" width="55" height="18" fill="#924380"/><rect x="1000" y="1141" width="18" height="18" fill="#994b84"/><rect x="1018" y="1141" width="55" height="18" fill="#974683"/><rect x="1073" y="1141" width="36" height="18" fill="#9c4986"/><rect x="1109" y="1141" width="18" height="18" fill="#aa6a9c"/><rect x="1127" y="1141" width="309" height="18" fill="#54229a"/><rect x="873" y="1159" width="54" height="18" fill="#974683"/><rect x="927" y="1159" width="18" height="18" fill="#9c4986"/><rect x="945" y="1159" width="73" height="18" fill="#924380"/><rect x="1018" y="1159" width="18" height="18" fill="#8e417f"/><rect x="1036" y="1159" width="37" height="18" fill="#974683"/><rect x="1073" y="1159" width="18" height="18" fill="#9c4986"/><rect x="1091" y="1159" width="18" height="18" fill="#974683"/><rect x="1109" y="1159" width="327" height="18" fill="#54229a"/><rect x="873" y="1177" width="18" height="18" fill="#924380"/><rect x="891" y="1177" width="18" height="18" fill="#994b84"/><rect x="909" y="1177" width="36" height="18" fill="#974683"/><rect x="945" y="1177" width="91" height="18" fill="#924380"/><rect x="1036" y="1177" width="37" height="18" fill="#974683"/><rect x="1073" y="1177" width="18" height="18" fill="#994b84"/><rect x="1091" y="1177" width="18" height="18" fill="#974683"/><rect x="1109" y="1177" width="327" height="18" fill="#54229a"/><rect x="873" y="1195" width="18" height="18" fill="#924380"/><rect x="891" y="1195" width="36" height="18" fill="#974683"/><rect x="927" y="1195" width="73" height="18" fill="#924380"/><rect x="1000" y="1195" width="18" height="18" fill="#8e417f"/><rect x="1018" y="1195" width="18" height="18" fill="#924380"/><rect x="1036" y="1195" width="37" height="18" fill="#974683"/><rect x="1073" y="1195" width="18" height="18" fill="#994b84"/><rect x="1091" y="1195" width="18" height="18" fill="#974683"/><rect x="1109" y="1195" width="327" height="18" fill="#54229a"/><rect x="873" y="1213" width="36" height="19" fill="#974683"/><rect x="909" y="1213" width="145" height="19" fill="#924380"/><rect x="1054" y="1213" width="55" height="19" fill="#974683"/><rect x="1109" y="1213" width="327" height="19" fill="#54229a"/><rect x="873" y="1232" width="36" height="18" fill="#8e417f"/><rect x="909" y="1232" width="18" height="18" fill="#924380"/><rect x="927" y="1232" width="18" height="18" fill="#8a3f7e"/><rect x="945" y="1232" width="19" height="18" fill="#8e417f"/><rect x="964" y="1232" width="90" height="18" fill="#924380"/><rect x="1054" y="1232" width="19" height="18" fill="#974683"/><rect x="1073" y="1232" width="36" height="18" fill="#994b84"/><rect x="1109" y="1232" width="327" height="18" fill="#54229a"/><rect x="873" y="1250" width="109" height="18" fill="#8a3f7e"/><rect x="982" y="1250" width="72" height="18" fill="#924380"/><rect x="1054" y="1250" width="19" height="18" fill="#974683"/><rect x="1073" y="1250" width="36" height="18" fill="#994b84"/><rect x="1109" y="1250" width="327" height="18" fill="#54229a"/></g><rect x="1445.3" y="671.3" width="346" height="157.6" rx="4" ry="4" fill="#ffffff" fill-opacity="0.8" stroke="#cccccc" stroke-width="1.2"/><rect x="1452.9" y="680.1" width="43" height="15.8" fill="#fd8d3c"/><rect x="1452.9" y="710.5" width="43" height="15.8" fill="#ccffff"/><rect x="1452.9" y="741.0" width="43" height="15.8" fill="#005bff"/><rect x="1452.9" y="778.0" width="43.6" height="3.0" fill="#000000"/><rect x="1453.5" y="801.7" width="41.8" height="15.1" fill="#8f2b33" stroke="#7a1e26" stroke-width="1.2"/><text x="1512.6" y="695.6" font-family="Liberation Sans, sans-serif" font-size="22" textLength="47.6" lengthAdjust="spacingAndGlyphs">sand</text><text x="1513.4" y="725.8" font-family="Liberation Sans, sans-serif" font-size="22" textLength="115.5" lengthAdjust="spacingAndGlyphs">whitewater</text><text x="1513.4" y="756.3" font-family="Liberation Sans, sans-serif" font-size="22" textLength="58.4" lengthAdjust="spacingAndGlyphs">water</text><text x="1512.6" y="786.6" font-family="Liberation Sans, sans-serif" font-size="22" textLength="93.7" lengthAdjust="spacingAndGlyphs">shoreline</text><text x="1512.6" y="817.0" font-family="Liberation Sans, sans-serif" font-size="22" textLength="270.0" lengthAdjust="spacingAndGlyphs">reference shoreline buffer</text><g><rect x="1730" y="53" width="73" height="18" fill="#ff7f78"/><rect x="1803" y="53" width="36" height="18" fill="#be3262"/><rect x="1839" y="53" width="91" height="18" fill="#be3868"/><rect x="1930" y="53" width="181" height="18" fill="#be3262"/><rect x="2111" y="53" width="18" height="18" fill="#be3868"/><rect x="2129" y="53" width="37" height="18" fill="#be3262"/><rect x="2166" y="53" width="18" height="18" fill="#be3868"/><rect x="2184" y="53" width="18" height="18" fill="#c24676"/><rect x="2202" y="53" width="18" height="18" fill="#c0588e"/><rect x="2220" y="53" width="36" height="18" fill="#8430a0"/><rect x="2256" y="53" width="37" height="18" fill="#6a1a9e"/><rect x="1730" y="71" width="73" height="18" fill="#ff7f78"/><rect x="1803" y="71" width="308" height="18" fill="#be3262"/><rect x="2111" y="71" width="18" height="18" fill="#be3868"/><rect x="2129" y="71" width="37" height="18" fill="#be3262"/><rect x="2166" y="71" width="18" height="18" fill="#be3868"/><rect x="2184" y="71" width="18" height="18" fill="#c24676"/><rect x="2202" y="71" width="18" height="18" fill="#c0588e"/><rect x="2220" y="71" width="36" height="18" fill="#8430a0"/><rect x="2256" y="71" width="37" height="18" fill="#6a1a9e"/><rect x="1730" y="89" width="54" height="19" fill="#ff7f78"/><rect x="1784" y="89" width="164" height="19" fill="#be3262"/><rect x="1948" y="89" width="54" height="19" fill="#be3868"/><rect x="2002" y="89" width="164" height="19" fill="#be3262"/><rect x="2166" y="89" width="18" height="19" fill="#be3868"/><rect x="2184" y="89" width="18" height="19" fill="#c24676"/><rect x="2202" y="89" width="18" height="19" fill="#c0588e"/><rect x="2220" y="89" width="36" height="19" fill="#8430a0"/><rect x="2256" y="89" width="37" height="19" fill="#6a1a9e"/><rect x="1730" y="108" width="36" height="18" fill="#ff8a86"/><rect x="1766" y="108" width="18" height="18" fill="#ff7f78"/><rect x="1784" y="108" width="55" height="18" fill="#be3868"/><rect x="1839" y="108" width="109" height="18" fill="#be3262"/><rect x="1948" y="108" width="54" height="18" fill="#be3868"/><rect x="2002" y="108" width="164" height="18" fill="#be3262"/><rect x="2166" y="108" width="18" height="18" fill="#c24676"/><rect x="2184" y="108" width="18" height="18" fill="#c0588e"/><rect x="2202" y="108" width="18" height="18" fill="#9e44a0"/><rect x="2220" y="108" width="18" height="18" fill="#8430a0"/><rect x="2238" y="108" width="55" height="18" fill="#6a1a9e"/><rect x="1730" y="126" width="36" height="18" fill="#ffa09e"/><rect x="1766" y="126" width="37" height="18" fill="#c24676"/><rect x="1803" y="126" width="36" height="18" fill="#be3868"/><rect x="1839" y="126" width="18" height="18" fill="#be3262"/><rect x="1857" y="126" width="18" height="18" fill="#c02858"/><rect x="1875" y="126" width="37" height="18" fill="#be3262"/><rect x="1912" y="126" width="72" height="18" fill="#be3868"/><rect x="1984" y="126" width="55" height="18" fill="#be3262"/><rect x="2039" y="126" width="72" height="18" fill="#be3868"/><rect x="2111" y="126" width="55" height="18" fill="#be3262"/><rect x="2166" y="126" width="18" height="18" fill="#c24676"/><rect x="2184" y="126" width="18" height="18" fill="#c0588e"/><rect x="2202" y="126" width="18" height="18" fill="#9e44a0"/><rect x="2220" y="126" width="73" height="18" fill="#6a1a9e"/><rect x="1730" y="144" width="36" height="18" fill="#ff8a86"/><rect x="1766" y="144" width="18" height="18" fill="#be3262"/><rect x="1784" y="144" width="55" height="18" fill="#be3868"/><rect x="1839" y="144" width="54" height="18" fill="#be3262"/><rect x="1893" y="144" width="19" height="18" fill="#be3868"/><rect x="1912" y="144" width="18" height="18" fill="#be3262"/><rect x="1930" y="144" width="36" height="18" fill="#be3868"/><rect x="1966" y="144" width="91" height="18" fill="#be3262"/><rect x="2057" y="144" width="54" height="18" fill="#be3868"/><rect x="2111" y="144" width="55" height="18" fill="#be3262"/><rect x="2166" y="144" width="18" height="18" fill="#c0588e"/><rect x="2184" y="144" width="18" height="18" fill="#9e44a0"/><rect x="2202" y="144" width="18" height="18" fill="#8430a0"/><rect x="2220" y="144" width="73" height="18" fill="#6a1a9e"/><rect x="1730" y="162" width="36" height="18" fill="#ff6c6a"/><rect x="1766" y="162" width="18" height="18" fill="#be3262"/><rect x="1784" y="162" width="146" height="18" fill="#be3868"/><rect x="1930" y="162" width="109" height="18" fill="#be3262"/><rect x="2039" y="162" width="18" height="18" fill="#c02858"/><rect x="2057" y="162" width="36" height="18" fill="#be3262"/><rect x="2093" y="162" width="54" height="18" fill="#be3868"/><rect x="2147" y="162" width="19" height="18" fill="#c24676"/><rect x="2166" y="162" width="18" height="18" fill="#c0588e"/><rect x="2184" y="162" width="18" height="18" fill="#9e44a0"/><rect x="2202" y="162" width="18" height="18" fill="#8430a0"/><rect x="2220" y="162" width="73" height="18" fill="#6a1a9e"/><rect x="1730" y="180" width="36" height="18" fill="#ff5c5a"/><rect x="1766" y="180" width="182" height="18" fill="#be3868"/><rect x="1948" y="180" width="163" height="18" fill="#be3262"/><rect x="2111" y="180" width="18" height="18" fill="#be3868"/><rect x="2129" y="180" width="18" height="18" fill="#c24676"/><rect x="2147" y="180" width="37" height="18" fill="#c0588e"/><rect x="2184" y="180" width="18" height="18" fill="#8430a0"/><rect x="2202" y="180" width="91" height="18" fill="#6a1a9e"/><rect x="1730" y="198" width="36" height="18" fill="#ff5c5a"/><rect x="1766" y="198" width="73" height="18" fill="#be3262"/><rect x="1839" y="198" width="36" height="18" fill="#be3868"/><rect x="1875" y="198" width="37" height="18" fill="#be3262"/><rect x="1912" y="198" width="54" height="18" fill="#be3868"/><rect x="1966" y="198" width="145" height="18" fill="#be3262"/><rect x="2111" y="198" width="18" height="18" fill="#be3868"/><rect x="2129" y="198" width="18" height="18" fill="#c24676"/><rect x="2147" y="198" width="19" height="18" fill="#c0588e"/><rect x="2166" y="198" width="18" height="18" fill="#9e44a0"/><rect x="2184" y="198" width="36" height="18" fill="#64129c"/><rect x="2220" y="198" width="73" height="18" fill="#6a1a9e"/><rect x="1730" y="216" width="36" height="18" fill="#ff6c6a"/><rect x="1766" y="216" width="18" height="18" fill="#be3262"/><rect x="1784" y="216" width="19" height="18" fill="#be3868"/><rect x="1803" y="216" width="54" height="18" fill="#be3262"/><rect x="1857" y="216" width="145" height="18" fill="#be3868"/><rect x="2002" y="216" width="109" height="18" fill="#be3262"/><rect x="2111" y="216" width="18" height="18" fill="#c24676"/><rect x="2129" y="216" width="37" height="18" fill="#c0588e"/><rect x="2166" y="216" width="18" height="18" fill="#8430a0"/><rect x="2184" y="216" width="36" height="18" fill="#64129c"/><rect x="2220" y="216" width="73" height="18" fill="#6a1a9e"/><rect x="1730" y="234" width="18" height="19" fill="#ff7f78"/><rect x="1748" y="234" width="55" height="19" fill="#be3868"/><rect x="1803" y="234" width="90" height="19" fill="#be3262"/><rect x="1893" y="234" width="19" height="19" fill="#c24676"/><rect x="1912" y="234" width="36" height="19" fill="#be3868"/><rect x="1948" y="234" width="18" height="19" fill="#c24676"/><rect x="1966" y="234" width="54" height="19" fill="#be3868"/><rect x="2020" y="234" width="73" height="19" fill="#be3262"/><rect x="2093" y="234" width="18" height="19" fill="#c24676"/><rect x="2111" y="234" width="36" height="19" fill="#c0588e"/><rect x="2147" y="234" width="19" height="19" fill="#9e44a0"/><rect x="2166" y="234" width="18" height="19" fill="#8430a0"/><rect x="2184" y="234" width="36" height="19" fill="#64129c"/><rect x="2220" y="234" width="73" height="19" fill="#6a1a9e"/><rect x="1730" y="253" width="18" height="18" fill="#ffa09e"/><rect x="1748" y="253" width="36" height="18" fill="#be3868"/><rect x="1784" y="253" width="55" height="18" fill="#be3262"/><rect x="1839" y="253" width="18" height="18" fill="#c02858"/><rect x="1857" y="253" width="36" height="18" fill="#be3262"/><rect x="1893" y="253" width="37" height="18" fill="#be3868"/><rect x="1930" y="253" width="18" height="18" fill="#c24676"/><rect x="1948" y="253" width="72" height="18" fill="#be3868"/><rect x="2020" y="253" width="73" height="18" fill="#be3262"/><rect x="2093" y="253" width="18" height="18" fill="#c24676"/><rect x="2111" y="253" width="18" height="18" fill="#c0588e"/><rect x="2129" y="253" width="18" height="18" fill="#9e44a0"/><rect x="2147" y="253" width="19" height="18" fill="#8430a0"/><rect x="2166" y="253" width="18" height="18" fill="#6a1a9e"/><rect x="2184" y="253" width="36" height="18" fill="#64129c"/><rect x="2220" y="253" width="73" height="18" fill="#6a1a9e"/><rect x="1730" y="271" width="18" height="18" fill="#ffb2b0"/><rect x="1748" y="271" width="18" height="18" fill="#c24676"/><rect x="1766" y="271" width="18" height="18" fill="#be3868"/><rect x="1784" y="271" width="109" height="18" fill="#be3262"/><rect x="1893" y="271" width="19" height="18" fill="#be3868"/><rect x="1912" y="271" width="36" height="18" fill="#c24676"/><rect x="1948" y="271" width="72" height="18" fill="#be3868"/><rect x="2020" y="271" width="73" height="18" fill="#be3262"/><rect x="2093" y="271" width="18" height="18" fill="#c24676"/><rect x="2111" y="271" width="18" height="18" fill="#c0588e"/><rect x="2129" y="271" width="18" height="18" fill="#9e44a0"/><rect x="2147" y="271" width="19" height="18" fill="#8430a0"/><rect x="2166" y="271" width="127" height="18" fill="#6a1a9e"/><rect x="1730" y="289" width="18" height="18" fill="#ff8a86"/><rect x="1748" y="289" width="36" height="18" fill="#be3868"/><rect x="1784" y="289" width="164" height="18" fill="#be3262"/><rect x="1948" y="289" width="72" height="18" fill="#be3868"/><rect x="2020" y="289" width="73" height="18" fill="#be3262"/><rect x="2093" y="289" width="18" height="18" fill="#c0588e"/><rect x="2111" y="289" width="18" height="18" fill="#9e44a0"/><rect x="2129" y="289" width="18" height="18" fill="#8430a0"/><rect x="2147" y="289" width="109" height="18" fill="#6a1a9e"/><rect x="2256" y="289" width="19" height="18" fill="#64129c"/><rect x="2275" y="289" width="18" height="18" fill="#6a1a9e"/><rect x="1730" y="307" width="18" height="18" fill="#ff7f78"/><rect x="1748" y="307" width="91" height="18" fill="#be3262"/><rect x="1839" y="307" width="54" height="18" fill="#c02858"/><rect x="1893" y="307" width="55" height="18" fill="#be3262"/><rect x="1948" y="307" width="72" height="18" fill="#be3868"/><rect x="2020" y="307" width="55" height="18" fill="#be3262"/><rect x="2075" y="307" width="18" height="18" fill="#c24676"/><rect x="2093" y="307" width="18" height="18" fill="#c0588e"/><rect x="2111" y="307" width="18" height="18" fill="#9e44a0"/><rect x="2129" y="307" width="18" height="18" fill="#8430a0"/><rect x="2147" y="307" width="109" height="18" fill="#6a1a9e"/><rect x="2256" y="307" width="19" height="18" fill="#64129c"/><rect x="2275" y="307" width="18" height="18" fill="#6a1a9e"/><rect x="1730" y="325" width="18" height="18" fill="#be3262"/><rect x="1748" y="325" width="73" height="18" fill="#be3868"/><rect x="1821" y="325" width="36" height="18" fill="#be3262"/><rect x="1857" y="325" width="36" height="18" fill="#c02858"/><rect x="1893" y="325" width="55" height="18" fill="#be3262"/><rect x="1948" y="325" width="91" height="18" fill="#be3868"/><rect x="2039" y="325" width="18" height="18" fill="#be3262"/><rect x="2057" y="325" width="18" height="18" fill="#be3868"/><rect x="2075" y="325" width="18" height="18" fill="#c24676"/><rect x="2093" y="325" width="18" height="18" fill="#c0588e"/><rect x="2111" y="325" width="36" height="18" fill="#8430a0"/><rect x="2147" y="325" width="146" height="18" fill="#6a1a9e"/><rect x="1730" y="343" width="54" height="18" fill="#be3262"/><rect x="1784" y="343" width="19" height="18" fill="#c24676"/><rect x="1803" y="343" width="54" height="18" fill="#be3868"/><rect x="1857" y="343" width="36" height="18" fill="#be3262"/><rect x="1893" y="343" width="19" height="18" fill="#c02858"/><rect x="1912" y="343" width="18" height="18" fill="#be3262"/><rect x="1930" y="343" width="18" height="18" fill="#c24676"/><rect x="1948" y="343" width="109" height="18" fill="#be3868"/><rect x="2057" y="343" width="36" height="18" fill="#c24676"/><rect x="2093" y="343" width="18" height="18" fill="#9e44a0"/><rect x="2111" y="343" width="55" height="18" fill="#8430a0"/><rect x="2166" y="343" width="54" height="18" fill="#6a1a9e"/><rect x="2220" y="343" width="18" height="18" fill="#64129c"/><rect x="2238" y="343" width="55" height="18" fill="#6a1a9e"/><rect x="1730" y="361" width="36" height="19" fill="#be3262"/><rect x="1766" y="361" width="73" height="19" fill="#be3868"/><rect x="1839" y="361" width="91" height="19" fill="#be3262"/><rect x="1930" y="361" width="90" height="19" fill="#be3868"/><rect x="2020" y="361" width="19" height="19" fill="#be3262"/><rect x="2039" y="361" width="18" height="19" fill="#be3868"/><rect x="2057" y="361" width="18" height="19" fill="#c24676"/><rect x="2075" y="361" width="18" height="19" fill="#c0588e"/><rect x="2093" y="361" width="18" height="19" fill="#9e44a0"/><rect x="2111" y="361" width="36" height="19" fill="#8430a0"/><rect x="2147" y="361" width="73" height="19" fill="#6a1a9e"/><rect x="2220" y="361" width="18" height="19" fill="#64129c"/><rect x="2238" y="361" width="55" height="19" fill="#6a1a9e"/><rect x="1730" y="380" width="36" height="18" fill="#be3262"/><rect x="1766" y="380" width="18" height="18" fill="#be3868"/><rect x="1784" y="380" width="37" height="18" fill="#c24676"/><rect x="1821" y="380" width="36" height="18" fill="#be3868"/><rect x="1857" y="380" width="73" height="18" fill="#be3262"/><rect x="1930" y="380" width="36" height="18" fill="#be3868"/><rect x="1966" y="380" width="73" height="18" fill="#be3262"/><rect x="2039" y="380" width="18" height="18" fill="#be3868"/><rect x="2057" y="380" width="18" height="18" fill="#c24676"/><rect x="2075" y="380" width="18" height="18" fill="#c0588e"/><rect x="2093" y="380" width="18" height="18" fill="#9e44a0"/><rect x="2111" y="380" width="18" height="18" fill="#8430a0"/><rect x="2129" y="380" width="91" height="18" fill="#6a1a9e"/><rect x="2220" y="380" width="18" height="18" fill="#64129c"/><rect x="2238" y="380" width="55" height="18" fill="#6a1a9e"/><rect x="1730" y="398" width="36" height="18" fill="#be3262"/><rect x="1766" y="398" width="164" height="18" fill="#be3868"/><rect x="1930" y="398" width="127" height="18" fill="#be3262"/><rect x="2057" y="398" width="36" height="18" fill="#c24676"/><rect x="2093" y="398" width="18" height="18" fill="#9e44a0"/><rect x="2111" y="398" width="18" height="18" fill="#8430a0"/><rect x="2129" y="398" width="164" height="18" fill="#6a1a9e"/><rect x="1730" y="416" width="36" height="18" fill="#c02858"/><rect x="1766" y="416" width="55" height="18" fill="#be3262"/><rect x="1821" y="416" width="127" height="18" fill="#be3868"/><rect x="1948" y="416" width="54" height="18" fill="#be3262"/><rect x="2002" y="416" width="37" height="18" fill="#c02858"/><rect x="2039" y="416" width="18" height="18" fill="#be3262"/><rect x="2057" y="416" width="36" height="18" fill="#c24676"/><rect x="2093" y="416" width="18" height="18" fill="#c0588e"/><rect x="2111" y="416" width="18" height="18" fill="#9e44a0"/><rect x="2129" y="416" width="18" height="18" fill="#8430a0"/><rect x="2147" y="416" width="146" height="18" fill="#6a1a9e"/><rect x="1730" y="434" width="18" height="18" fill="#c02858"/><rect x="1748" y="434" width="73" height="18" fill="#be3262"/><rect x="1821" y="434" width="36" height="18" fill="#be3868"/><rect x="1857" y="434" width="18" height="18" fill="#be3262"/><rect x="1875" y="434" width="73" height="18" fill="#be3868"/><rect x="1948" y="434" width="54" height="18" fill="#be3262"/><rect x="2002" y="434" width="37" height="18" fill="#c02858"/><rect x="2039" y="434" width="18" height="18" fill="#be3262"/><rect x="2057" y="434" width="18" height="18" fill="#c24676"/><rect x="2075" y="434" width="36" height="18" fill="#c0588e"/><rect x="2111" y="434" width="36" height="18" fill="#8430a0"/><rect x="2147" y="434" width="146" height="18" fill="#6a1a9e"/><rect x="1730" y="452" width="200" height="18" fill="#be3262"/><rect x="1930" y="452" width="18" height="18" fill="#be3868"/><rect x="1948" y="452" width="54" height="18" fill="#be3262"/><rect x="2002" y="452" width="37" height="18" fill="#c02858"/><rect x="2039" y="452" width="18" height="18" fill="#be3262"/><rect x="2057" y="452" width="18" height="18" fill="#c24676"/><rect x="2075" y="452" width="18" height="18" fill="#c0588e"/><rect x="2093" y="452" width="18" height="18" fill="#9e44a0"/><rect x="2111" y="452" width="36" height="18" fill="#8430a0"/><rect x="2147" y="452" width="146" height="18" fill="#6a1a9e"/><rect x="1730" y="470" width="18" height="18" fill="#be3868"/><rect x="1748" y="470" width="182" height="18" fill="#be3262"/><rect x="1930" y="470" width="18" height="18" fill="#be3868"/><rect x="1948" y="470" width="91" height="18" fill="#be3262"/><rect x="2039" y="470" width="18" height="18" fill="#c24676"/><rect x="2057" y="470" width="36" height="18" fill="#c0588e"/><rect x="2093" y="470" width="18" height="18" fill="#9e44a0"/><rect x="2111" y="470" width="36" height="18" fill="#8430a0"/><rect x="2147" y="470" width="146" height="18" fill="#6a1a9e"/><rect x="1730" y="488" width="18" height="18" fill="#be3868"/><rect x="1748" y="488" width="200" height="18" fill="#be3262"/><rect x="1948" y="488" width="18" height="18" fill="#be3868"/><rect x="1966" y="488" width="54" height="18" fill="#be3262"/><rect x="2020" y="488" width="37" height="18" fill="#c24676"/><rect x="2057" y="488" width="18" height="18" fill="#c0588e"/><rect x="2075" y="488" width="18" height="18" fill="#9e44a0"/><rect x="2093" y="488" width="36" height="18" fill="#8430a0"/><rect x="2129" y="488" width="164" height="18" fill="#6a1a9e"/><rect x="1766" y="506" width="164" height="19" fill="#be3262"/><rect x="1930" y="506" width="36" height="19" fill="#be3868"/><rect x="1966" y="506" width="54" height="19" fill="#be3262"/><rect x="2020" y="506" width="19" height="19" fill="#c24676"/><rect x="2039" y="506" width="36" height="19" fill="#c0588e"/><rect x="2075" y="506" width="36" height="19" fill="#8430a0"/><rect x="2111" y="506" width="182" height="19" fill="#6a1a9e"/><rect x="1839" y="525" width="18" height="18" fill="#be3262"/><rect x="1857" y="525" width="18" height="18" fill="#c02858"/><rect x="1875" y="525" width="55" height="18" fill="#be3262"/><rect x="1930" y="525" width="36" height="18" fill="#be3868"/><rect x="1966" y="525" width="18" height="18" fill="#be3262"/><rect x="1984" y="525" width="18" height="18" fill="#c02858"/><rect x="2002" y="525" width="18" height="18" fill="#be3868"/><rect x="2020" y="525" width="19" height="18" fill="#c24676"/><rect x="2039" y="525" width="18" height="18" fill="#c0588e"/><rect x="2057" y="525" width="18" height="18" fill="#9e44a0"/><rect x="2075" y="525" width="36" height="18" fill="#6a1a9e"/><rect x="2111" y="525" width="18" height="18" fill="#8430a0"/><rect x="2129" y="525" width="164" height="18" fill="#6a1a9e"/><rect x="1984" y="543" width="18" height="18" fill="#be3262"/><rect x="2002" y="543" width="18" height="18" fill="#be3868"/><rect x="2020" y="543" width="19" height="18" fill="#c0588e"/><rect x="2039" y="543" width="18" height="18" fill="#9e44a0"/><rect x="2057" y="543" width="18" height="18" fill="#8430a0"/><rect x="2075" y="543" width="218" height="18" fill="#6a1a9e"/><rect x="2020" y="561" width="19" height="18" fill="#c0588e"/><rect x="2039" y="561" width="36" height="18" fill="#8430a0"/><rect x="2075" y="561" width="36" height="18" fill="#64129c"/><rect x="2111" y="561" width="182" height="18" fill="#6a1a9e"/><rect x="2166" y="579" width="127" height="18" fill="#6a1a9e"/><rect x="2238" y="597" width="55" height="18" fill="#6a1a9e"/><rect x="1730" y="833" width="91" height="18" fill="#c01e50"/><rect x="1730" y="851" width="91" height="18" fill="#c01e50"/><rect x="1730" y="869" width="36" height="18" fill="#c01e50"/><rect x="1766" y="869" width="18" height="18" fill="#c02858"/><rect x="1784" y="869" width="37" height="18" fill="#c01e50"/><rect x="1821" y="869" width="36" height="18" fill="#c60e40"/><rect x="1857" y="869" width="18" height="18" fill="#c01e50"/><rect x="1875" y="869" width="37" height="18" fill="#c02858"/><rect x="1912" y="869" width="36" height="18" fill="#be3262"/><rect x="1948" y="869" width="18" height="18" fill="#c24676"/><rect x="1966" y="869" width="18" height="18" fill="#c0588e"/><rect x="1984" y="869" width="18" height="18" fill="#9e44a0"/><rect x="2002" y="869" width="37" height="18" fill="#8430a0"/><rect x="1730" y="887" width="36" height="18" fill="#c01e50"/><rect x="1766" y="887" width="18" height="18" fill="#c02858"/><rect x="1784" y="887" width="37" height="18" fill="#c01e50"/><rect x="1821" y="887" width="36" height="18" fill="#c60e40"/><rect x="1857" y="887" width="18" height="18" fill="#c01e50"/><rect x="1875" y="887" width="37" height="18" fill="#c02858"/><rect x="1912" y="887" width="36" height="18" fill="#be3262"/><rect x="1948" y="887" width="18" height="18" fill="#c24676"/><rect x="1966" y="887" width="18" height="18" fill="#c0588e"/><rect x="1984" y="887" width="18" height="18" fill="#9e44a0"/><rect x="2002" y="887" width="37" height="18" fill="#8430a0"/><rect x="1730" y="905" width="54" height="18" fill="#c02858"/><rect x="1784" y="905" width="73" height="18" fill="#c01e50"/><rect x="1857" y="905" width="36" height="18" fill="#c02858"/><rect x="1893" y="905" width="55" height="18" fill="#be3262"/><rect x="1948" y="905" width="36" height="18" fill="#c0588e"/><rect x="1984" y="905" width="18" height="18" fill="#9e44a0"/><rect x="2002" y="905" width="73" height="18" fill="#6a1a9e"/><rect x="2075" y="905" width="36" height="18" fill="#64129c"/><rect x="2111" y="905" width="18" height="18" fill="#6a1a9e"/><rect x="2129" y="905" width="55" height="18" fill="#64129c"/><rect x="2184" y="905" width="36" height="18" fill="#6a1a9e"/><rect x="1730" y="923" width="163" height="18" fill="#c02858"/><rect x="1893" y="923" width="55" height="18" fill="#be3262"/><rect x="1948" y="923" width="18" height="18" fill="#c0588e"/><rect x="1966" y="923" width="18" height="18" fill="#9e44a0"/><rect x="1984" y="923" width="18" height="18" fill="#8430a0"/><rect x="2002" y="923" width="73" height="18" fill="#6a1a9e"/><rect x="2075" y="923" width="36" height="18" fill="#64129c"/><rect x="2111" y="923" width="18" height="18" fill="#6a1a9e"/><rect x="2129" y="923" width="55" height="18" fill="#64129c"/><rect x="2184" y="923" width="36" height="18" fill="#6a1a9e"/><rect x="1730" y="941" width="145" height="19" fill="#c02858"/><rect x="1875" y="941" width="73" height="19" fill="#be3262"/><rect x="1948" y="941" width="18" height="19" fill="#c0588e"/><rect x="1966" y="941" width="18" height="19" fill="#9e44a0"/><rect x="1984" y="941" width="18" height="19" fill="#8430a0"/><rect x="2002" y="941" width="200" height="19" fill="#6a1a9e"/><rect x="2202" y="941" width="18" height="19" fill="#64129c"/><rect x="2220" y="941" width="18" height="19" fill="#5e0a9e"/><rect x="2238" y="941" width="37" height="19" fill="#64129c"/><rect x="2275" y="941" width="18" height="19" fill="#6a1a9e"/><rect x="1730" y="960" width="54" height="18" fill="#be3262"/><rect x="1784" y="960" width="91" height="18" fill="#c02858"/><rect x="1875" y="960" width="55" height="18" fill="#be3262"/><rect x="1930" y="960" width="18" height="18" fill="#c24676"/><rect x="1948" y="960" width="18" height="18" fill="#c0588e"/><rect x="1966" y="960" width="36" height="18" fill="#8430a0"/><rect x="2002" y="960" width="200" height="18" fill="#6a1a9e"/><rect x="2202" y="960" width="18" height="18" fill="#64129c"/><rect x="2220" y="960" width="18" height="18" fill="#5e0a9e"/><rect x="2238" y="960" width="18" height="18" fill="#64129c"/><rect x="2256" y="960" width="37" height="18" fill="#6a1a9e"/><rect x="1730" y="978" width="109" height="18" fill="#be3262"/><rect x="1839" y="978" width="36" height="18" fill="#c02858"/><rect x="1875" y="978" width="55" height="18" fill="#be3262"/><rect x="1930" y="978" width="18" height="18" fill="#c24676"/><rect x="1948" y="978" width="18" height="18" fill="#c0588e"/><rect x="1966" y="978" width="36" height="18" fill="#8430a0"/><rect x="2002" y="978" width="200" height="18" fill="#6a1a9e"/><rect x="2202" y="978" width="18" height="18" fill="#64129c"/><rect x="2220" y="978" width="18" height="18" fill="#5e0a9e"/><rect x="2238" y="978" width="18" height="18" fill="#64129c"/><rect x="2256" y="978" width="37" height="18" fill="#6a1a9e"/><rect x="1730" y="996" width="54" height="18" fill="#be3868"/><rect x="1784" y="996" width="128" height="18" fill="#be3262"/><rect x="1912" y="996" width="36" height="18" fill="#c24676"/><rect x="1948" y="996" width="18" height="18" fill="#9e44a0"/><rect x="1966" y="996" width="36" height="18" fill="#8430a0"/><rect x="2002" y="996" width="218" height="18" fill="#6a1a9e"/><rect x="2220" y="996" width="18" height="18" fill="#64129c"/><rect x="2238" y="996" width="55" height="18" fill="#6a1a9e"/><rect x="1730" y="1014" width="127" height="18" fill="#be3868"/><rect x="1857" y="1014" width="18" height="18" fill="#be3262"/><rect x="1875" y="1014" width="37" height="18" fill="#be3868"/><rect x="1912" y="1014" width="18" height="18" fill="#c24676"/><rect x="1930" y="1014" width="18" height="18" fill="#c0588e"/><rect x="1948" y="1014" width="18" height="18" fill="#9e44a0"/><rect x="1966" y="1014" width="36" height="18" fill="#8430a0"/><rect x="2002" y="1014" width="291" height="18" fill="#6a1a9e"/><rect x="1730" y="1032" width="36" height="18" fill="#be3868"/><rect x="1766" y="1032" width="91" height="18" fill="#c24676"/><rect x="1857" y="1032" width="18" height="18" fill="#be3868"/><rect x="1875" y="1032" width="55" height="18" fill="#c24676"/><rect x="1930" y="1032" width="18" height="18" fill="#c0588e"/><rect x="1948" y="1032" width="18" height="18" fill="#9e44a0"/><rect x="1966" y="1032" width="36" height="18" fill="#8430a0"/><rect x="2002" y="1032" width="291" height="18" fill="#6a1a9e"/><rect x="1730" y="1050" width="54" height="18" fill="#be3868"/><rect x="1784" y="1050" width="73" height="18" fill="#c24676"/><rect x="1857" y="1050" width="55" height="18" fill="#be3868"/><rect x="1912" y="1050" width="18" height="18" fill="#c24676"/><rect x="1930" y="1050" width="18" height="18" fill="#c0588e"/><rect x="1948" y="1050" width="18" height="18" fill="#9e44a0"/><rect x="1966" y="1050" width="36" height="18" fill="#8430a0"/><rect x="2002" y="1050" width="291" height="18" fill="#6a1a9e"/><rect x="1730" y="1068" width="73" height="18" fill="#be3868"/><rect x="1803" y="1068" width="36" height="18" fill="#c24676"/><rect x="1839" y="1068" width="73" height="18" fill="#be3868"/><rect x="1912" y="1068" width="18" height="18" fill="#c24676"/><rect x="1930" y="1068" width="18" height="18" fill="#c0588e"/><rect x="1948" y="1068" width="18" height="18" fill="#9e44a0"/><rect x="1966" y="1068" width="36" height="18" fill="#8430a0"/><rect x="2002" y="1068" width="291" height="18" fill="#6a1a9e"/><rect x="1730" y="1086" width="127" height="19" fill="#be3868"/><rect x="1857" y="1086" width="18" height="19" fill="#be3262"/><rect x="1875" y="1086" width="37" height="19" fill="#be3868"/><rect x="1912" y="1086" width="18" height="19" fill="#c24676"/><rect x="1930" y="1086" width="18" height="19" fill="#c0588e"/><rect x="1948" y="1086" width="18" height="19" fill="#9e44a0"/><rect x="1966" y="1086" width="36" height="19" fill="#8430a0"/><rect x="2002" y="1086" width="291" height="19" fill="#6a1a9e"/><rect x="1730" y="1105" width="18" height="18" fill="#be3868"/><rect x="1748" y="1105" width="36" height="18" fill="#be3262"/><rect x="1784" y="1105" width="37" height="18" fill="#be3868"/><rect x="1821" y="1105" width="18" height="18" fill="#be3262"/><rect x="1839" y="1105" width="73" height="18" fill="#be3868"/><rect x="1912" y="1105" width="18" height="18" fill="#c24676"/><rect x="1930" y="1105" width="18" height="18" fill="#c0588e"/><rect x="1948" y="1105" width="18" height="18" fill="#9e44a0"/><rect x="1966" y="1105" width="36" height="18" fill="#8430a0"/><rect x="2002" y="1105" width="291" height="18" fill="#6a1a9e"/><rect x="1730" y="1123" width="18" height="18" fill="#be3262"/><rect x="1748" y="1123" width="18" height="18" fill="#c02858"/><rect x="1766" y="1123" width="73" height="18" fill="#be3262"/><rect x="1839" y="1123" width="54" height="18" fill="#be3868"/><rect x="1893" y="1123" width="19" height="18" fill="#be3262"/><rect x="1912" y="1123" width="18" height="18" fill="#c24676"/><rect x="1930" y="1123" width="18" height="18" fill="#c0588e"/><rect x="1948" y="1123" width="18" height="18" fill="#9e44a0"/><rect x="1966" y="1123" width="36" height="18" fill="#8430a0"/><rect x="2002" y="1123" width="218" height="18" fill="#6a1a9e"/><rect x="2220" y="1123" width="18" height="18" fill="#64129c"/><rect x="2238" y="1123" width="55" height="18" fill="#6a1a9e"/><rect x="1730" y="1141" width="127" height="18" fill="#be3262"/><rect x="1857" y="1141" width="36" height="18" fill="#be3868"/><rect x="1893" y="1141" width="19" height="18" fill="#be3262"/><rect x="1912" y="1141" width="18" height="18" fill="#c24676"/><rect x="1930" y="1141" width="18" height="18" fill="#c0588e"/><rect x="1948" y="1141" width="18" height="18" fill="#9e44a0"/><rect x="1966" y="1141" width="36" height="18" fill="#8430a0"/><rect x="2002" y="1141" width="109" height="18" fill="#6a1a9e"/><rect x="2111" y="1141" width="36" height="18" fill="#64129c"/><rect x="2147" y="1141" width="73" height="18" fill="#6a1a9e"/><rect x="2220" y="1141" width="18" height="18" fill="#64129c"/><rect x="2238" y="1141" width="55" height="18" fill="#6a1a9e"/><rect x="1730" y="1159" width="127" height="18" fill="#be3262"/><rect x="1857" y="1159" width="18" height="18" fill="#be3868"/><rect x="1875" y="1159" width="18" height="18" fill="#c02858"/><rect x="1893" y="1159" width="19" height="18" fill="#be3262"/><rect x="1912" y="1159" width="18" height="18" fill="#c24676"/><rect x="1930" y="1159" width="18" height="18" fill="#c0588e"/><rect x="1948" y="1159" width="18" height="18" fill="#9e44a0"/><rect x="1966" y="1159" width="36" height="18" fill="#8430a0"/><rect x="2002" y="1159" width="109" height="18" fill="#6a1a9e"/><rect x="2111" y="1159" width="36" height="18" fill="#64129c"/><rect x="2147" y="1159" width="146" height="18" fill="#6a1a9e"/><rect x="1730" y="1177" width="182" height="18" fill="#be3262"/><rect x="1912" y="1177" width="18" height="18" fill="#c24676"/><rect x="1930" y="1177" width="18" height="18" fill="#c0588e"/><rect x="1948" y="1177" width="18" height="18" fill="#9e44a0"/><rect x="1966" y="1177" width="36" height="18" fill="#8430a0"/><rect x="2002" y="1177" width="182" height="18" fill="#6a1a9e"/><rect x="2184" y="1177" width="36" height="18" fill="#64129c"/><rect x="2220" y="1177" width="73" height="18" fill="#6a1a9e"/><rect x="1730" y="1195" width="182" height="18" fill="#be3868"/><rect x="1912" y="1195" width="18" height="18" fill="#c24676"/><rect x="1930" y="1195" width="18" height="18" fill="#c0588e"/><rect x="1948" y="1195" width="18" height="18" fill="#9e44a0"/><rect x="1966" y="1195" width="36" height="18" fill="#8430a0"/><rect x="2002" y="1195" width="182" height="18" fill="#6a1a9e"/><rect x="2184" y="1195" width="54" height="18" fill="#64129c"/><rect x="2238" y="1195" width="55" height="18" fill="#6a1a9e"/><rect x="1730" y="1213" width="73" height="19" fill="#be3868"/><rect x="1803" y="1213" width="54" height="19" fill="#c24676"/><rect x="1857" y="1213" width="18" height="19" fill="#c0588e"/><rect x="1875" y="1213" width="55" height="19" fill="#c24676"/><rect x="1930" y="1213" width="18" height="19" fill="#c0588e"/><rect x="1948" y="1213" width="18" height="19" fill="#9e44a0"/><rect x="1966" y="1213" width="36" height="19" fill="#8430a0"/><rect x="2002" y="1213" width="73" height="19" fill="#6a1a9e"/><rect x="2075" y="1213" width="36" height="19" fill="#64129c"/><rect x="2111" y="1213" width="73" height="19" fill="#6a1a9e"/><rect x="2184" y="1213" width="72" height="19" fill="#64129c"/><rect x="2256" y="1213" width="37" height="19" fill="#6a1a9e"/><rect x="1730" y="1232" width="36" height="18" fill="#be3868"/><rect x="1766" y="1232" width="91" height="18" fill="#c24676"/><rect x="1857" y="1232" width="18" height="18" fill="#c0588e"/><rect x="1875" y="1232" width="55" height="18" fill="#c24676"/><rect x="1930" y="1232" width="18" height="18" fill="#c0588e"/><rect x="1948" y="1232" width="18" height="18" fill="#9e44a0"/><rect x="1966" y="1232" width="36" height="18" fill="#8430a0"/><rect x="2002" y="1232" width="145" height="18" fill="#6a1a9e"/><rect x="2147" y="1232" width="73" height="18" fill="#64129c"/><rect x="2220" y="1232" width="73" height="18" fill="#6a1a9e"/><rect x="1730" y="1250" width="36" height="18" fill="#be3868"/><rect x="1766" y="1250" width="91" height="18" fill="#c24676"/><rect x="1857" y="1250" width="18" height="18" fill="#c0588e"/><rect x="1875" y="1250" width="55" height="18" fill="#c24676"/><rect x="1930" y="1250" width="18" height="18" fill="#c0588e"/><rect x="1948" y="1250" width="18" height="18" fill="#9e44a0"/><rect x="1966" y="1250" width="36" height="18" fill="#8430a0"/><rect x="2002" y="1250" width="127" height="18" fill="#6a1a9e"/><rect x="2129" y="1250" width="55" height="18" fill="#5e0a9e"/><rect x="2184" y="1250" width="18" height="18" fill="#64129c"/><rect x="2202" y="1250" width="91" height="18" fill="#6a1a9e"/><g fill="rgba(141,0,77,0.59)"><rect x="1730" y="506" width="36" height="19"/><rect x="1730" y="525" width="109" height="18"/><rect x="1730" y="543" width="254" height="18"/><rect x="1730" y="561" width="290" height="18"/><rect x="1730" y="579" width="436" height="18"/><rect x="1730" y="597" width="508" height="18"/><rect x="1730" y="615" width="563" height="18"/><rect x="1730" y="633" width="563" height="18"/><rect x="1730" y="651" width="563" height="19"/><rect x="1730" y="670" width="563" height="18"/><rect x="1730" y="688" width="563" height="18"/><rect x="1730" y="706" width="563" height="18"/><rect x="1730" y="724" width="563" height="18"/><rect x="1730" y="742" width="563" height="18"/><rect x="1730" y="760" width="563" height="18"/><rect x="1730" y="778" width="563" height="18"/><rect x="1730" y="796" width="563" height="19"/><rect x="1730" y="815" width="563" height="18"/><rect x="1821" y="833" width="472" height="18"/><rect x="1821" y="851" width="472" height="18"/><rect x="2039" y="869" width="254" height="18"/><rect x="2039" y="887" width="254" height="18"/><rect x="2220" y="905" width="73" height="18"/><rect x="2220" y="923" width="73" height="18"/></g></g><g fill="#000"><circle cx="502.2" cy="62.5" r="1.45"/><circle cx="501.3" cy="80.6" r="1.45"/><circle cx="499.5" cy="98.4" r="1.45"/><circle cx="496.4" cy="107.5" r="1.45"/><circle cx="491.4" cy="116.5" r="1.45"/><circle cx="477.6" cy="137.4" r="1.45"/><circle cx="479.5" cy="135.4" r="1.45"/><circle cx="471.5" cy="153.4" r="1.45"/><circle cx="464.3" cy="171.5" r="1.45"/><circle cx="459.3" cy="184.4" r="1.45"/><circle cx="457.2" cy="189.6" r="1.45"/><circle cx="449.3" cy="207.6" r="1.45"/><circle cx="439.4" cy="225.5" r="1.45"/><circle cx="441.4" cy="223.7" r="1.45"/><circle cx="426.3" cy="243.6" r="1.45"/><circle cx="423.3" cy="254.4" r="1.45"/><circle cx="421.3" cy="262.6" r="1.45"/><circle cx="412.3" cy="280.4" r="1.45"/><circle cx="405.2" cy="290.6" r="1.45"/><circle cx="402.3" cy="298.5" r="1.45"/><circle cx="395.3" cy="316.6" r="1.45"/><circle cx="390.3" cy="334.5" r="1.45"/><circle cx="387.4" cy="345.3" r="1.45"/><circle cx="384.2" cy="352.5" r="1.45"/><circle cx="385.4" cy="370.6" r="1.45"/><circle cx="381.3" cy="388.4" r="1.45"/><circle cx="387.4" cy="400.4" r="1.45"/><circle cx="389.4" cy="407.4" r="1.45"/><circle cx="394.4" cy="425.5" r="1.45"/><circle cx="392.4" cy="443.4" r="1.45"/><circle cx="390.3" cy="461.5" r="1.45"/><circle cx="387.4" cy="469.4" r="1.45"/><circle cx="377.4" cy="479.6" r="1.45"/><circle cx="369.3" cy="484.5" r="1.45"/><circle cx="359.3" cy="497.6" r="1.45"/><circle cx="353.2" cy="515.7" r="1.45"/><circle cx="350.3" cy="523.4" r="1.45"/><circle cx="345.3" cy="534.5" r="1.45"/><circle cx="332.4" cy="547.4" r="1.45"/><circle cx="329.3" cy="552.6" r="1.45"/><circle cx="278.4" cy="896.5" r="1.45"/><circle cx="268.5" cy="914.4" r="1.45"/><circle cx="260.5" cy="925.5" r="1.45"/><circle cx="255.3" cy="933.4" r="1.45"/><circle cx="251.3" cy="951.5" r="1.45"/><circle cx="247.2" cy="969.6" r="1.45"/><circle cx="244.3" cy="987.6" r="1.45"/><circle cx="242.2" cy="998.5" r="1.45"/><circle cx="240.2" cy="1005.5" r="1.45"/><circle cx="240.2" cy="1023.6" r="1.45"/><circle cx="238.2" cy="1041.5" r="1.45"/><circle cx="237.3" cy="1059.3" r="1.45"/><circle cx="237.3" cy="1078.5" r="1.45"/><circle cx="241.3" cy="1096.6" r="1.45"/><circle cx="242.2" cy="1114.5" r="1.45"/><circle cx="241.5" cy="1132.5" r="1.45"/><circle cx="241.5" cy="1150.3" r="1.45"/><circle cx="239.3" cy="1168.4" r="1.45"/><circle cx="237.1" cy="1186.4" r="1.45"/><circle cx="234.4" cy="1205.2" r="1.45"/><circle cx="233.4" cy="1223.3" r="1.45"/><circle cx="235.4" cy="1241.4" r="1.45"/><circle cx="235.4" cy="1259.4" r="1.45"/><circle cx="1360.0" cy="62.5" r="1.45"/><circle cx="1359.1" cy="80.6" r="1.45"/><circle cx="1357.3" cy="98.4" r="1.45"/><circle cx="1354.2" cy="107.5" r="1.45"/><circle cx="1349.2" cy="116.5" r="1.45"/><circle cx="1335.4" cy="137.4" r="1.45"/><circle cx="1337.3" cy="135.4" r="1.45"/><circle cx="1329.3" cy="153.4" r="1.45"/><circle cx="1322.1" cy="171.5" r="1.45"/><circle cx="1317.1" cy="184.4" r="1.45"/><circle cx="1315.0" cy="189.6" r="1.45"/><circle cx="1307.1" cy="207.6" r="1.45"/><circle cx="1297.2" cy="225.5" r="1.45"/><circle cx="1299.2" cy="223.7" r="1.45"/><circle cx="1284.1" cy="243.6" r="1.45"/><circle cx="1281.1" cy="254.4" r="1.45"/><circle cx="1279.1" cy="262.6" r="1.45"/><circle cx="1270.1" cy="280.4" r="1.45"/><circle cx="1263.0" cy="290.6" r="1.45"/><circle cx="1260.1" cy="298.5" r="1.45"/><circle cx="1253.1" cy="316.6" r="1.45"/><circle cx="1248.1" cy="334.5" r="1.45"/><circle cx="1245.2" cy="345.3" r="1.45"/><circle cx="1242.0" cy="352.5" r="1.45"/><circle cx="1243.2" cy="370.6" r="1.45"/><circle cx="1239.1" cy="388.4" r="1.45"/><circle cx="1245.2" cy="400.4" r="1.45"/><circle cx="1247.2" cy="407.4" r="1.45"/><circle cx="1252.2" cy="425.5" r="1.45"/><circle cx="1250.2" cy="443.4" r="1.45"/><circle cx="1248.1" cy="461.5" r="1.45"/><circle cx="1245.2" cy="469.4" r="1.45"/><circle cx="1235.2" cy="479.6" r="1.45"/><circle cx="1227.1" cy="484.5" r="1.45"/><circle cx="1217.1" cy="497.6" r="1.45"/><circle cx="1211.0" cy="515.7" r="1.45"/><circle cx="1208.1" cy="523.4" r="1.45"/><circle cx="1203.1" cy="534.5" r="1.45"/><circle cx="1190.2" cy="547.4" r="1.45"/><circle cx="1187.1" cy="552.6" r="1.45"/><circle cx="1136.2" cy="896.5" r="1.45"/><circle cx="1126.3" cy="914.4" r="1.45"/><circle cx="1118.3" cy="925.5" r="1.45"/><circle cx="1113.1" cy="933.4" r="1.45"/><circle cx="1109.1" cy="951.5" r="1.45"/><circle cx="1105.0" cy="969.6" r="1.45"/><circle cx="1102.1" cy="987.6" r="1.45"/><circle cx="1100.0" cy="998.5" r="1.45"/><circle cx="1098.0" cy="1005.5" r="1.45"/><circle cx="1098.0" cy="1023.6" r="1.45"/><circle cx="1096.0" cy="1041.5" r="1.45"/><circle cx="1095.1" cy="1059.3" r="1.45"/><circle cx="1095.1" cy="1078.5" r="1.45"/><circle cx="1099.1" cy="1096.6" r="1.45"/><circle cx="1100.0" cy="1114.5" r="1.45"/><circle cx="1099.3" cy="1132.5" r="1.45"/><circle cx="1099.3" cy="1150.3" r="1.45"/><circle cx="1097.1" cy="1168.4" r="1.45"/><circle cx="1094.9" cy="1186.4" r="1.45"/><circle cx="1092.2" cy="1205.2" r="1.45"/><circle cx="1091.2" cy="1223.3" r="1.45"/><circle cx="1093.2" cy="1241.4" r="1.45"/><circle cx="1093.2" cy="1259.4" r="1.45"/><circle cx="2217.2" cy="62.5" r="1.45"/><circle cx="2216.3" cy="80.6" r="1.45"/><circle cx="2214.5" cy="98.4" r="1.45"/><circle cx="2211.4" cy="107.5" r="1.45"/><circle cx="2206.4" cy="116.5" r="1.45"/><circle cx="2192.6" cy="137.4" r="1.45"/><circle cx="2194.5" cy="135.4" r="1.45"/><circle cx="2186.5" cy="153.4" r="1.45"/><circle cx="2179.3" cy="171.5" r="1.45"/><circle cx="2174.3" cy="184.4" r="1.45"/><circle cx="2172.2" cy="189.6" r="1.45"/><circle cx="2164.3" cy="207.6" r="1.45"/><circle cx="2154.4" cy="225.5" r="1.45"/><circle cx="2156.4" cy="223.7" r="1.45"/><circle cx="2141.3" cy="243.6" r="1.45"/><circle cx="2138.3" cy="254.4" r="1.45"/><circle cx="2136.3" cy="262.6" r="1.45"/><circle cx="2127.3" cy="280.4" r="1.45"/><circle cx="2120.2" cy="290.6" r="1.45"/><circle cx="2117.3" cy="298.5" r="1.45"/><circle cx="2110.3" cy="316.6" r="1.45"/><circle cx="2105.3" cy="334.5" r="1.45"/><circle cx="2102.4" cy="345.3" r="1.45"/><circle cx="2099.2" cy="352.5" r="1.45"/><circle cx="2100.4" cy="370.6" r="1.45"/><circle cx="2096.3" cy="388.4" r="1.45"/><circle cx="2102.4" cy="400.4" r="1.45"/><circle cx="2104.4" cy="407.4" r="1.45"/><circle cx="2109.4" cy="425.5" r="1.45"/><circle cx="2107.4" cy="443.4" r="1.45"/><circle cx="2105.3" cy="461.5" r="1.45"/><circle cx="2102.4" cy="469.4" r="1.45"/><circle cx="2092.4" cy="479.6" r="1.45"/><circle cx="2084.3" cy="484.5" r="1.45"/><circle cx="2074.3" cy="497.6" r="1.45"/><circle cx="2068.2" cy="515.7" r="1.45"/><circle cx="2065.3" cy="523.4" r="1.45"/><circle cx="2060.3" cy="534.5" r="1.45"/><circle cx="2047.4" cy="547.4" r="1.45"/><circle cx="2044.3" cy="552.6" r="1.45"/><circle cx="1993.4" cy="896.5" r="1.45"/><circle cx="1983.5" cy="914.4" r="1.45"/><circle cx="1975.5" cy="925.5" r="1.45"/><circle cx="1970.3" cy="933.4" r="1.45"/><circle cx="1966.3" cy="951.5" r="1.45"/><circle cx="1962.2" cy="969.6" r="1.45"/><circle cx="1959.3" cy="987.6" r="1.45"/><circle cx="1957.2" cy="998.5" r="1.45"/><circle cx="1955.2" cy="1005.5" r="1.45"/><circle cx="1955.2" cy="1023.6" r="1.45"/><circle cx="1953.2" cy="1041.5" r="1.45"/><circle cx="1952.3" cy="1059.3" r="1.45"/><circle cx="1952.3" cy="1078.5" r="1.45"/><circle cx="1956.3" cy="1096.6" r="1.45"/><circle cx="1957.2" cy="1114.5" r="1.45"/><circle cx="1956.5" cy="1132.5" r="1.45"/><circle cx="1956.5" cy="1150.3" r="1.45"/><circle cx="1954.3" cy="1168.4" r="1.45"/><circle cx="1952.1" cy="1186.4" r="1.45"/><circle cx="1949.4" cy="1205.2" r="1.45"/><circle cx="1948.4" cy="1223.3" r="1.45"/><circle cx="1950.4" cy="1241.4" r="1.45"/><circle cx="1950.4" cy="1259.4" r="1.45"/></g></svg></body></html>
